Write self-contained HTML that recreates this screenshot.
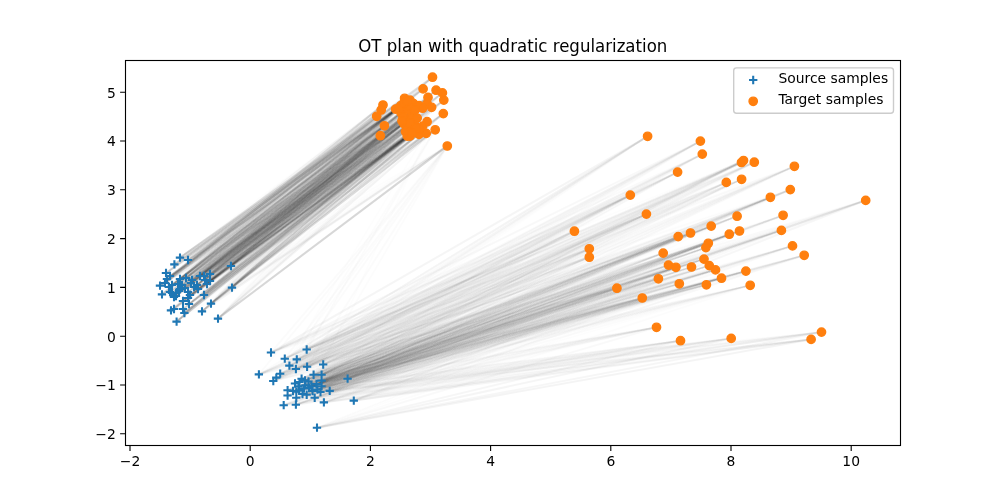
<!DOCTYPE html>
<html><head><meta charset="utf-8"><title>OT plan with quadratic regularization</title>
<style>html,body{margin:0;padding:0;background:#fff}svg{display:block}text{font-family:"DejaVu Sans","Liberation Sans",sans-serif;fill:#000}</style></head><body>
<svg width="1000" height="500" viewBox="0 0 1000 500">
<rect width="1000" height="500" fill="#fff"/>
<defs><clipPath id="c"><rect x="125" y="60" width="775" height="385"/></clipPath></defs>
<g clip-path="url(#c)" stroke="#000" stroke-width="2.08" stroke-linecap="square" fill="none">
<g stroke-opacity="0.00785">
<path d="M180.0 257.6L436.1 90.2"/>
<path d="M180.0 257.6L443.8 100.1"/>
<path d="M180.0 257.6L383.0 105.0"/>
<path d="M180.0 257.6L376.7 116.3"/>
<path d="M180.0 257.6L428.0 97.4"/>
<path d="M180.0 257.6L431.6 107.3"/>
<path d="M180.0 257.6L395.6 109.1"/>
<path d="M180.0 257.6L411.8 117.2"/>
<path d="M180.0 257.6L422.6 126.2"/>
<path d="M180.0 257.6L409.0 106.0"/>
<path d="M180.0 257.6L402.0 121.0"/>
<path d="M188.0 260.0L442.4 92.9"/>
<path d="M188.0 260.0L443.3 113.6"/>
<path d="M188.0 260.0L435.2 129.8"/>
<path d="M188.0 260.0L395.6 109.1"/>
<path d="M188.0 260.0L408.2 110.0"/>
<path d="M188.0 260.0L422.6 126.2"/>
<path d="M188.0 260.0L409.0 106.0"/>
<path d="M188.0 260.0L410.0 123.0"/>
<path d="M188.0 260.0L412.0 133.0"/>
<path d="M188.0 260.0L399.0 108.0"/>
<path d="M188.0 260.0L407.0 101.0"/>
<path d="M174.4 264.4L432.5 77.2"/>
<path d="M174.4 264.4L383.0 105.0"/>
<path d="M174.4 264.4L376.7 116.3"/>
<path d="M174.4 264.4L428.0 97.4"/>
<path d="M174.4 264.4L427.1 103.7"/>
<path d="M174.4 264.4L431.6 107.3"/>
<path d="M174.4 264.4L413.6 103.7"/>
<path d="M174.4 264.4L411.8 117.2"/>
<path d="M174.4 264.4L410.0 123.0"/>
<path d="M174.4 264.4L399.0 108.0"/>
<path d="M166.0 273.0L436.1 90.2"/>
<path d="M166.0 273.0L376.7 116.3"/>
<path d="M166.0 273.0L380.3 135.7"/>
<path d="M166.0 273.0L410.0 100.1"/>
<path d="M166.0 273.0L414.5 124.4"/>
<path d="M166.0 273.0L405.5 131.6"/>
<path d="M166.0 273.0L403.0 117.0"/>
<path d="M170.0 276.0L436.1 90.2"/>
<path d="M170.0 276.0L442.4 92.9"/>
<path d="M170.0 276.0L381.2 110.0"/>
<path d="M170.0 276.0L380.3 135.7"/>
<path d="M170.0 276.0L427.1 103.7"/>
<path d="M170.0 276.0L431.6 107.3"/>
<path d="M170.0 276.0L419.0 105.5"/>
<path d="M170.0 276.0L408.2 110.0"/>
<path d="M170.0 276.0L411.8 117.2"/>
<path d="M170.0 276.0L413.6 130.7"/>
<path d="M170.0 276.0L417.2 118.1"/>
<path d="M170.0 276.0L422.6 108.2"/>
<path d="M170.0 276.0L403.7 123.5"/>
<path d="M170.0 276.0L409.0 106.0"/>
<path d="M170.0 276.0L416.0 128.0"/>
<path d="M170.0 276.0L412.0 133.0"/>
<path d="M170.0 276.0L402.0 121.0"/>
<path d="M231.0 266.0L423.1 88.9"/>
<path d="M231.0 266.0L435.2 129.8"/>
<path d="M231.0 266.0L428.0 97.4"/>
<path d="M231.0 266.0L427.1 103.7"/>
<path d="M231.0 266.0L431.6 107.3"/>
<path d="M231.0 266.0L427.1 121.7"/>
<path d="M231.0 266.0L395.6 109.1"/>
<path d="M231.0 266.0L413.6 103.7"/>
<path d="M231.0 266.0L419.0 105.5"/>
<path d="M231.0 266.0L411.8 117.2"/>
<path d="M231.0 266.0L422.6 108.2"/>
<path d="M231.0 266.0L422.6 126.2"/>
<path d="M231.0 266.0L409.0 106.0"/>
<path d="M231.0 266.0L410.0 123.0"/>
<path d="M232.0 287.6L432.5 77.2"/>
<path d="M232.0 287.6L423.1 88.9"/>
<path d="M232.0 287.6L447.3 146.0"/>
<path d="M232.0 287.6L428.0 97.4"/>
<path d="M232.0 287.6L427.1 103.7"/>
<path d="M232.0 287.6L426.2 133.4"/>
<path d="M232.0 287.6L401.0 105.5"/>
<path d="M232.0 287.6L408.2 110.0"/>
<path d="M232.0 287.6L413.6 130.7"/>
<path d="M232.0 287.6L417.2 118.1"/>
<path d="M232.0 287.6L422.6 108.2"/>
<path d="M232.0 287.6L403.7 123.5"/>
<path d="M232.0 287.6L422.6 126.2"/>
<path d="M232.0 287.6L419.0 128.9"/>
<path d="M232.0 287.6L403.0 117.0"/>
<path d="M232.0 287.6L415.0 110.0"/>
<path d="M232.0 287.6L410.0 123.0"/>
<path d="M232.0 287.6L416.0 128.0"/>
<path d="M218.0 318.6L436.1 90.2"/>
<path d="M218.0 318.6L443.3 113.6"/>
<path d="M218.0 318.6L427.1 121.7"/>
<path d="M218.0 318.6L419.0 134.3"/>
<path d="M218.0 318.6L408.2 110.0"/>
<path d="M218.0 318.6L411.8 117.2"/>
<path d="M218.0 318.6L422.6 108.2"/>
<path d="M218.0 318.6L410.0 136.1"/>
<path d="M218.0 318.6L405.5 131.6"/>
<path d="M218.0 318.6L410.0 123.0"/>
<path d="M218.0 318.6L416.0 128.0"/>
<path d="M176.6 321.6L447.3 146.0"/>
<path d="M176.6 321.6L384.4 125.8"/>
<path d="M176.6 321.6L426.2 133.4"/>
<path d="M176.6 321.6L395.6 109.1"/>
<path d="M176.6 321.6L401.0 112.7"/>
<path d="M176.6 321.6L406.4 119.0"/>
<path d="M176.6 321.6L411.8 117.2"/>
<path d="M176.6 321.6L408.2 127.1"/>
<path d="M176.6 321.6L422.6 108.2"/>
<path d="M176.6 321.6L422.6 126.2"/>
<path d="M176.6 321.6L415.0 110.0"/>
<path d="M176.6 321.6L416.0 128.0"/>
<path d="M176.6 321.6L402.0 121.0"/>
<path d="M202.0 311.4L436.1 90.2"/>
<path d="M202.0 311.4L443.3 113.6"/>
<path d="M202.0 311.4L384.4 125.8"/>
<path d="M202.0 311.4L380.3 135.7"/>
<path d="M202.0 311.4L428.0 97.4"/>
<path d="M202.0 311.4L427.1 121.7"/>
<path d="M202.0 311.4L407.3 136.1"/>
<path d="M202.0 311.4L401.0 105.5"/>
<path d="M202.0 311.4L419.0 105.5"/>
<path d="M202.0 311.4L406.4 119.0"/>
<path d="M202.0 311.4L408.2 127.1"/>
<path d="M202.0 311.4L403.7 123.5"/>
<path d="M202.0 311.4L416.0 128.0"/>
<path d="M202.0 311.4L412.0 133.0"/>
<path d="M211.0 303.6L432.5 77.2"/>
<path d="M211.0 303.6L443.8 100.1"/>
<path d="M211.0 303.6L443.3 113.6"/>
<path d="M211.0 303.6L381.2 110.0"/>
<path d="M211.0 303.6L431.6 107.3"/>
<path d="M211.0 303.6L404.6 98.3"/>
<path d="M211.0 303.6L413.6 103.7"/>
<path d="M211.0 303.6L419.0 105.5"/>
<path d="M211.0 303.6L408.2 110.0"/>
<path d="M211.0 303.6L406.4 119.0"/>
<path d="M211.0 303.6L411.8 117.2"/>
<path d="M211.0 303.6L408.2 127.1"/>
<path d="M211.0 303.6L413.6 130.7"/>
<path d="M211.0 303.6L417.2 118.1"/>
<path d="M211.0 303.6L422.6 108.2"/>
<path d="M211.0 303.6L410.0 136.1"/>
<path d="M211.0 303.6L412.0 133.0"/>
<path d="M171.0 310.4L381.2 110.0"/>
<path d="M171.0 310.4L376.7 116.3"/>
<path d="M171.0 310.4L427.1 103.7"/>
<path d="M171.0 310.4L419.0 105.5"/>
<path d="M171.0 310.4L406.4 119.0"/>
<path d="M171.0 310.4L408.2 127.1"/>
<path d="M171.0 310.4L413.6 130.7"/>
<path d="M171.0 310.4L417.2 118.1"/>
<path d="M171.0 310.4L403.7 123.5"/>
<path d="M171.0 310.4L422.6 126.2"/>
<path d="M171.0 310.4L403.0 117.0"/>
<path d="M174.0 309.0L419.0 134.3"/>
<path d="M174.0 309.0L406.4 119.0"/>
<path d="M174.0 309.0L422.6 108.2"/>
<path d="M174.0 309.0L416.0 128.0"/>
<path d="M174.0 309.0L402.0 121.0"/>
<path d="M183.0 309.0L427.1 121.7"/>
<path d="M183.0 309.0L426.2 133.4"/>
<path d="M183.0 309.0L413.6 103.7"/>
<path d="M183.0 309.0L414.5 124.4"/>
<path d="M183.0 309.0L408.2 127.1"/>
<path d="M183.0 309.0L422.6 126.2"/>
<path d="M183.0 309.0L419.0 128.9"/>
<path d="M183.0 309.0L403.0 117.0"/>
<path d="M184.4 313.0L447.3 146.0"/>
<path d="M184.4 313.0L384.4 125.8"/>
<path d="M184.4 313.0L401.0 105.5"/>
<path d="M184.4 313.0L401.0 112.7"/>
<path d="M184.4 313.0L414.5 124.4"/>
<path d="M184.4 313.0L408.2 127.1"/>
<path d="M184.4 313.0L417.2 118.1"/>
<path d="M184.4 313.0L422.6 108.2"/>
<path d="M184.4 313.0L403.7 123.5"/>
<path d="M184.4 313.0L422.6 126.2"/>
<path d="M184.4 313.0L410.0 123.0"/>
<path d="M184.4 313.0L399.0 108.0"/>
<path d="M189.0 304.0L443.3 113.6"/>
<path d="M189.0 304.0L435.2 129.8"/>
<path d="M189.0 304.0L427.1 103.7"/>
<path d="M189.0 304.0L427.1 121.7"/>
<path d="M189.0 304.0L407.3 136.1"/>
<path d="M189.0 304.0L404.6 98.3"/>
<path d="M189.0 304.0L401.0 105.5"/>
<path d="M189.0 304.0L401.0 112.7"/>
<path d="M189.0 304.0L414.5 124.4"/>
<path d="M189.0 304.0L408.2 127.1"/>
<path d="M189.0 304.0L422.6 108.2"/>
<path d="M189.0 304.0L405.5 131.6"/>
<path d="M189.0 304.0L410.0 123.0"/>
<path d="M189.0 304.0L404.0 103.0"/>
<path d="M160.0 285.6L436.1 90.2"/>
<path d="M160.0 285.6L442.4 92.9"/>
<path d="M160.0 285.6L380.3 135.7"/>
<path d="M160.0 285.6L407.3 136.1"/>
<path d="M160.0 285.6L401.0 105.5"/>
<path d="M160.0 285.6L401.0 112.7"/>
<path d="M160.0 285.6L414.5 124.4"/>
<path d="M160.0 285.6L403.7 123.5"/>
<path d="M160.0 285.6L419.0 128.9"/>
<path d="M160.0 285.6L410.0 123.0"/>
<path d="M160.0 285.6L402.0 121.0"/>
<path d="M165.0 283.0L432.5 77.2"/>
<path d="M165.0 283.0L419.0 134.3"/>
<path d="M165.0 283.0L407.3 136.1"/>
<path d="M165.0 283.0L404.6 98.3"/>
<path d="M165.0 283.0L410.0 100.1"/>
<path d="M165.0 283.0L413.6 103.7"/>
<path d="M165.0 283.0L413.6 130.7"/>
<path d="M165.0 283.0L417.2 118.1"/>
<path d="M165.0 283.0L403.7 123.5"/>
<path d="M165.0 283.0L410.0 136.1"/>
<path d="M165.0 283.0L405.5 131.6"/>
<path d="M165.0 283.0L409.0 106.0"/>
<path d="M165.0 283.0L403.0 117.0"/>
<path d="M165.0 283.0L415.0 110.0"/>
<path d="M165.0 283.0L416.0 128.0"/>
<path d="M165.0 283.0L404.0 103.0"/>
<path d="M162.0 294.4L423.1 88.9"/>
<path d="M162.0 294.4L431.6 107.3"/>
<path d="M162.0 294.4L427.1 121.7"/>
<path d="M162.0 294.4L414.5 124.4"/>
<path d="M162.0 294.4L408.2 127.1"/>
<path d="M162.0 294.4L417.2 118.1"/>
<path d="M162.0 294.4L403.7 123.5"/>
<path d="M162.0 294.4L410.0 136.1"/>
<path d="M162.0 294.4L403.0 117.0"/>
<path d="M162.0 294.4L415.0 110.0"/>
<path d="M162.0 294.4L402.0 121.0"/>
<path d="M169.0 287.0L432.5 77.2"/>
<path d="M169.0 287.0L423.1 88.9"/>
<path d="M169.0 287.0L435.2 129.8"/>
<path d="M169.0 287.0L404.6 98.3"/>
<path d="M169.0 287.0L419.0 105.5"/>
<path d="M169.0 287.0L406.4 119.0"/>
<path d="M169.0 287.0L403.7 123.5"/>
<path d="M169.0 287.0L419.0 128.9"/>
<path d="M169.0 287.0L416.0 128.0"/>
<path d="M169.0 287.0L404.0 103.0"/>
<path d="M180.0 279.0L432.5 77.2"/>
<path d="M180.0 279.0L443.8 100.1"/>
<path d="M180.0 279.0L384.4 125.8"/>
<path d="M180.0 279.0L419.0 105.5"/>
<path d="M180.0 279.0L401.0 112.7"/>
<path d="M180.0 279.0L406.4 119.0"/>
<path d="M180.0 279.0L415.0 110.0"/>
<path d="M180.0 279.0L410.0 123.0"/>
<path d="M200.0 276.0L442.4 92.9"/>
<path d="M200.0 276.0L443.8 100.1"/>
<path d="M200.0 276.0L435.2 129.8"/>
<path d="M200.0 276.0L404.0 103.0"/>
<path d="M200.0 276.0L407.0 101.0"/>
<path d="M200.0 276.0L402.0 121.0"/>
<path d="M204.0 276.0L432.5 77.2"/>
<path d="M204.0 276.0L383.0 105.0"/>
<path d="M204.0 276.0L410.0 100.1"/>
<path d="M204.0 276.0L419.0 105.5"/>
<path d="M204.0 276.0L401.0 112.7"/>
<path d="M204.0 276.0L422.6 108.2"/>
<path d="M204.0 276.0L403.7 123.5"/>
<path d="M210.0 274.0L443.3 113.6"/>
<path d="M210.0 274.0L401.0 105.5"/>
<path d="M210.0 274.0L411.8 117.2"/>
<path d="M210.0 274.0L417.2 118.1"/>
<path d="M210.0 274.0L409.0 106.0"/>
<path d="M210.0 274.0L410.0 123.0"/>
<path d="M210.0 274.0L407.0 101.0"/>
<path d="M210.0 274.0L402.0 121.0"/>
<path d="M210.0 281.0L419.0 134.3"/>
<path d="M210.0 281.0L408.2 110.0"/>
<path d="M210.0 281.0L406.4 119.0"/>
<path d="M210.0 281.0L417.2 118.1"/>
<path d="M210.0 281.0L410.0 136.1"/>
<path d="M210.0 281.0L412.0 133.0"/>
<path d="M210.0 281.0L399.0 108.0"/>
<path d="M207.0 284.0L432.5 77.2"/>
<path d="M207.0 284.0L436.1 90.2"/>
<path d="M207.0 284.0L442.4 92.9"/>
<path d="M207.0 284.0L426.2 133.4"/>
<path d="M207.0 284.0L419.0 105.5"/>
<path d="M207.0 284.0L408.2 110.0"/>
<path d="M207.0 284.0L411.8 117.2"/>
<path d="M207.0 284.0L414.5 124.4"/>
<path d="M207.0 284.0L408.2 127.1"/>
<path d="M207.0 284.0L403.0 117.0"/>
<path d="M207.0 284.0L410.0 123.0"/>
<path d="M207.0 284.0L407.0 101.0"/>
<path d="M191.0 283.0L423.1 88.9"/>
<path d="M191.0 283.0L436.1 90.2"/>
<path d="M191.0 283.0L443.8 100.1"/>
<path d="M191.0 283.0L443.3 113.6"/>
<path d="M191.0 283.0L427.1 103.7"/>
<path d="M191.0 283.0L431.6 107.3"/>
<path d="M191.0 283.0L427.1 121.7"/>
<path d="M191.0 283.0L426.2 133.4"/>
<path d="M191.0 283.0L410.0 100.1"/>
<path d="M191.0 283.0L403.0 117.0"/>
<path d="M191.0 283.0L416.0 128.0"/>
<path d="M194.0 287.0L443.3 113.6"/>
<path d="M194.0 287.0L384.4 125.8"/>
<path d="M194.0 287.0L431.6 107.3"/>
<path d="M194.0 287.0L407.3 136.1"/>
<path d="M194.0 287.0L408.2 110.0"/>
<path d="M194.0 287.0L406.4 119.0"/>
<path d="M194.0 287.0L414.5 124.4"/>
<path d="M194.0 287.0L403.7 123.5"/>
<path d="M194.0 287.0L419.0 128.9"/>
<path d="M194.0 287.0L409.0 106.0"/>
<path d="M194.0 287.0L416.0 128.0"/>
<path d="M194.0 287.0L404.0 103.0"/>
<path d="M194.0 287.0L402.0 121.0"/>
<path d="M198.0 289.0L442.4 92.9"/>
<path d="M198.0 289.0L447.3 146.0"/>
<path d="M198.0 289.0L380.3 135.7"/>
<path d="M198.0 289.0L427.1 103.7"/>
<path d="M198.0 289.0L431.6 107.3"/>
<path d="M198.0 289.0L419.0 134.3"/>
<path d="M198.0 289.0L407.3 136.1"/>
<path d="M198.0 289.0L410.0 100.1"/>
<path d="M198.0 289.0L413.6 103.7"/>
<path d="M198.0 289.0L419.0 105.5"/>
<path d="M198.0 289.0L406.4 119.0"/>
<path d="M198.0 289.0L411.8 117.2"/>
<path d="M198.0 289.0L414.5 124.4"/>
<path d="M198.0 289.0L419.0 128.9"/>
<path d="M198.0 289.0L416.0 128.0"/>
<path d="M198.0 289.0L407.0 101.0"/>
<path d="M204.0 295.0L442.4 92.9"/>
<path d="M204.0 295.0L447.3 146.0"/>
<path d="M204.0 295.0L380.3 135.7"/>
<path d="M204.0 295.0L427.1 103.7"/>
<path d="M204.0 295.0L431.6 107.3"/>
<path d="M204.0 295.0L419.0 134.3"/>
<path d="M204.0 295.0L407.3 136.1"/>
<path d="M204.0 295.0L395.6 109.1"/>
<path d="M204.0 295.0L413.6 103.7"/>
<path d="M204.0 295.0L401.0 112.7"/>
<path d="M204.0 295.0L406.4 119.0"/>
<path d="M204.0 295.0L411.8 117.2"/>
<path d="M204.0 295.0L414.5 124.4"/>
<path d="M204.0 295.0L413.6 130.7"/>
<path d="M204.0 295.0L403.7 123.5"/>
<path d="M204.0 295.0L409.0 106.0"/>
<path d="M204.0 295.0L403.0 117.0"/>
<path d="M188.0 292.0L432.5 77.2"/>
<path d="M188.0 292.0L381.2 110.0"/>
<path d="M188.0 292.0L380.3 135.7"/>
<path d="M188.0 292.0L427.1 121.7"/>
<path d="M188.0 292.0L407.3 136.1"/>
<path d="M188.0 292.0L406.4 119.0"/>
<path d="M188.0 292.0L408.2 127.1"/>
<path d="M188.0 292.0L413.6 130.7"/>
<path d="M188.0 292.0L403.7 123.5"/>
<path d="M188.0 292.0L405.5 131.6"/>
<path d="M188.0 292.0L409.0 106.0"/>
<path d="M188.0 292.0L415.0 110.0"/>
<path d="M188.0 292.0L399.0 108.0"/>
<path d="M188.0 292.0L407.0 101.0"/>
<path d="M188.0 292.0L402.0 121.0"/>
<path d="M188.0 298.0L436.1 90.2"/>
<path d="M188.0 298.0L443.8 100.1"/>
<path d="M188.0 298.0L376.7 116.3"/>
<path d="M188.0 298.0L427.1 121.7"/>
<path d="M188.0 298.0L426.2 133.4"/>
<path d="M188.0 298.0L417.2 118.1"/>
<path d="M188.0 298.0L403.7 123.5"/>
<path d="M188.0 298.0L412.0 133.0"/>
<path d="M174.0 297.0L435.2 129.8"/>
<path d="M174.0 297.0L380.3 135.7"/>
<path d="M174.0 297.0L427.1 103.7"/>
<path d="M174.0 297.0L401.0 105.5"/>
<path d="M174.0 297.0L419.0 105.5"/>
<path d="M174.0 297.0L411.8 117.2"/>
<path d="M174.0 297.0L414.5 124.4"/>
<path d="M174.0 297.0L413.6 130.7"/>
<path d="M174.0 297.0L410.0 136.1"/>
<path d="M174.0 297.0L409.0 106.0"/>
<path d="M174.0 297.0L416.0 128.0"/>
<path d="M174.0 297.0L404.0 103.0"/>
<path d="M172.0 293.0L436.1 90.2"/>
<path d="M172.0 293.0L443.8 100.1"/>
<path d="M172.0 293.0L407.3 136.1"/>
<path d="M172.0 293.0L395.6 109.1"/>
<path d="M172.0 293.0L410.0 136.1"/>
<path d="M172.0 293.0L409.0 106.0"/>
<path d="M172.0 293.0L412.0 133.0"/>
<path d="M172.0 293.0L404.0 103.0"/>
<path d="M172.0 293.0L407.0 101.0"/>
<path d="M176.0 293.0L383.0 105.0"/>
<path d="M176.0 293.0L376.7 116.3"/>
<path d="M176.0 293.0L384.4 125.8"/>
<path d="M176.0 293.0L380.3 135.7"/>
<path d="M176.0 293.0L407.3 136.1"/>
<path d="M176.0 293.0L395.6 109.1"/>
<path d="M176.0 293.0L401.0 105.5"/>
<path d="M176.0 293.0L401.0 112.7"/>
<path d="M176.0 293.0L408.2 110.0"/>
<path d="M176.0 293.0L413.6 130.7"/>
<path d="M176.0 293.0L422.6 126.2"/>
<path d="M176.0 293.0L419.0 128.9"/>
<path d="M176.0 293.0L416.0 128.0"/>
<path d="M176.0 293.0L412.0 133.0"/>
<path d="M180.0 289.0L432.5 77.2"/>
<path d="M180.0 289.0L442.4 92.9"/>
<path d="M180.0 289.0L384.4 125.8"/>
<path d="M180.0 289.0L414.5 124.4"/>
<path d="M180.0 289.0L413.6 130.7"/>
<path d="M180.0 289.0L417.2 118.1"/>
<path d="M180.0 289.0L409.0 106.0"/>
<path d="M180.0 289.0L415.0 110.0"/>
<path d="M180.0 289.0L416.0 128.0"/>
<path d="M180.0 289.0L399.0 108.0"/>
<path d="M180.0 289.0L407.0 101.0"/>
<path d="M182.0 285.0L432.5 77.2"/>
<path d="M182.0 285.0L383.0 105.0"/>
<path d="M182.0 285.0L384.4 125.8"/>
<path d="M182.0 285.0L428.0 97.4"/>
<path d="M182.0 285.0L431.6 107.3"/>
<path d="M182.0 285.0L404.6 98.3"/>
<path d="M182.0 285.0L410.0 100.1"/>
<path d="M182.0 285.0L401.0 105.5"/>
<path d="M182.0 285.0L419.0 105.5"/>
<path d="M182.0 285.0L401.0 112.7"/>
<path d="M182.0 285.0L406.4 119.0"/>
<path d="M182.0 285.0L408.2 127.1"/>
<path d="M182.0 285.0L417.2 118.1"/>
<path d="M182.0 285.0L422.6 126.2"/>
<path d="M182.0 285.0L403.0 117.0"/>
<path d="M182.0 285.0L412.0 133.0"/>
<path d="M182.0 285.0L399.0 108.0"/>
<path d="M182.0 285.0L404.0 103.0"/>
<path d="M182.0 285.0L407.0 101.0"/>
<path d="M170.0 292.0L383.0 105.0"/>
<path d="M170.0 292.0L381.2 110.0"/>
<path d="M170.0 292.0L380.3 135.7"/>
<path d="M170.0 292.0L401.0 105.5"/>
<path d="M170.0 292.0L413.6 103.7"/>
<path d="M170.0 292.0L408.2 127.1"/>
<path d="M170.0 292.0L413.6 130.7"/>
<path d="M170.0 292.0L410.0 123.0"/>
<path d="M170.0 292.0L399.0 108.0"/>
<path d="M170.0 292.0L407.0 101.0"/>
<path d="M178.0 284.0L432.5 77.2"/>
<path d="M178.0 284.0L443.8 100.1"/>
<path d="M178.0 284.0L443.3 113.6"/>
<path d="M178.0 284.0L381.2 110.0"/>
<path d="M178.0 284.0L384.4 125.8"/>
<path d="M178.0 284.0L419.0 134.3"/>
<path d="M178.0 284.0L413.6 103.7"/>
<path d="M178.0 284.0L406.4 119.0"/>
<path d="M178.0 284.0L411.8 117.2"/>
<path d="M178.0 284.0L413.6 130.7"/>
<path d="M178.0 284.0L419.0 128.9"/>
<path d="M178.0 284.0L403.0 117.0"/>
<path d="M178.0 284.0L415.0 110.0"/>
<path d="M178.0 284.0L407.0 101.0"/>
<path d="M185.0 288.0L443.3 113.6"/>
<path d="M185.0 288.0L427.1 103.7"/>
<path d="M185.0 288.0L395.6 109.1"/>
<path d="M185.0 288.0L401.0 105.5"/>
<path d="M185.0 288.0L413.6 103.7"/>
<path d="M185.0 288.0L419.0 105.5"/>
<path d="M185.0 288.0L401.0 112.7"/>
<path d="M185.0 288.0L403.7 123.5"/>
<path d="M185.0 288.0L422.6 126.2"/>
<path d="M185.0 288.0L419.0 128.9"/>
<path d="M185.0 288.0L403.0 117.0"/>
<path d="M185.0 288.0L399.0 108.0"/>
<path d="M192.0 280.0L443.3 113.6"/>
<path d="M192.0 280.0L381.2 110.0"/>
<path d="M192.0 280.0L376.7 116.3"/>
<path d="M192.0 280.0L384.4 125.8"/>
<path d="M192.0 280.0L428.0 97.4"/>
<path d="M192.0 280.0L408.2 110.0"/>
<path d="M192.0 280.0L417.2 118.1"/>
<path d="M192.0 280.0L403.7 123.5"/>
<path d="M192.0 280.0L419.0 128.9"/>
<path d="M192.0 280.0L407.0 101.0"/>
<path d="M176.0 296.0L442.4 92.9"/>
<path d="M176.0 296.0L384.4 125.8"/>
<path d="M176.0 296.0L407.3 136.1"/>
<path d="M176.0 296.0L413.6 103.7"/>
<path d="M176.0 296.0L401.0 112.7"/>
<path d="M176.0 296.0L413.6 130.7"/>
<path d="M176.0 296.0L417.2 118.1"/>
<path d="M176.0 296.0L410.0 136.1"/>
<path d="M176.0 296.0L419.0 128.9"/>
<path d="M176.0 296.0L416.0 128.0"/>
<path d="M176.0 296.0L412.0 133.0"/>
<path d="M167.0 279.0L423.1 88.9"/>
<path d="M167.0 279.0L442.4 92.9"/>
<path d="M167.0 279.0L443.8 100.1"/>
<path d="M167.0 279.0L384.4 125.8"/>
<path d="M167.0 279.0L431.6 107.3"/>
<path d="M167.0 279.0L427.1 121.7"/>
<path d="M167.0 279.0L413.6 103.7"/>
<path d="M167.0 279.0L401.0 112.7"/>
<path d="M167.0 279.0L408.2 127.1"/>
<path d="M167.0 279.0L413.6 130.7"/>
<path d="M167.0 279.0L422.6 108.2"/>
<path d="M167.0 279.0L403.7 123.5"/>
<path d="M167.0 279.0L419.0 128.9"/>
<path d="M167.0 279.0L409.0 106.0"/>
<path d="M167.0 279.0L410.0 123.0"/>
<path d="M167.0 279.0L416.0 128.0"/>
<path d="M183.0 301.0L407.3 136.1"/>
<path d="M183.0 301.0L404.6 98.3"/>
<path d="M183.0 301.0L395.6 109.1"/>
<path d="M183.0 301.0L401.0 112.7"/>
<path d="M183.0 301.0L408.2 110.0"/>
<path d="M183.0 301.0L417.2 118.1"/>
<path d="M183.0 301.0L422.6 108.2"/>
<path d="M183.0 301.0L403.7 123.5"/>
<path d="M183.0 301.0L410.0 136.1"/>
<path d="M183.0 301.0L422.6 126.2"/>
<path d="M183.0 301.0L415.0 110.0"/>
<path d="M183.0 301.0L404.0 103.0"/>
<path d="M197.0 285.0L432.5 77.2"/>
<path d="M197.0 285.0L423.1 88.9"/>
<path d="M197.0 285.0L443.3 113.6"/>
<path d="M197.0 285.0L384.4 125.8"/>
<path d="M197.0 285.0L428.0 97.4"/>
<path d="M197.0 285.0L426.2 133.4"/>
<path d="M197.0 285.0L419.0 134.3"/>
<path d="M197.0 285.0L404.6 98.3"/>
<path d="M197.0 285.0L410.0 100.1"/>
<path d="M197.0 285.0L422.6 126.2"/>
<path d="M197.0 285.0L419.0 128.9"/>
<path d="M197.0 285.0L404.0 103.0"/>
<path d="M205.0 280.0L423.1 88.9"/>
<path d="M205.0 280.0L435.2 129.8"/>
<path d="M205.0 280.0L384.4 125.8"/>
<path d="M205.0 280.0L410.0 100.1"/>
<path d="M205.0 280.0L401.0 105.5"/>
<path d="M205.0 280.0L408.2 110.0"/>
<path d="M205.0 280.0L409.0 106.0"/>
<path d="M205.0 280.0L412.0 133.0"/>
<path d="M205.0 280.0L407.0 101.0"/>
<path d="M172.0 285.0L380.3 135.7"/>
<path d="M172.0 285.0L428.0 97.4"/>
<path d="M172.0 285.0L407.3 136.1"/>
<path d="M172.0 285.0L410.0 100.1"/>
<path d="M172.0 285.0L406.4 119.0"/>
<path d="M172.0 285.0L411.8 117.2"/>
<path d="M172.0 285.0L414.5 124.4"/>
<path d="M172.0 285.0L413.6 130.7"/>
<path d="M172.0 285.0L412.0 133.0"/>
<path d="M172.0 285.0L407.0 101.0"/>
<path d="M186.0 278.0L423.1 88.9"/>
<path d="M186.0 278.0L436.1 90.2"/>
<path d="M186.0 278.0L427.1 121.7"/>
<path d="M186.0 278.0L401.0 105.5"/>
<path d="M186.0 278.0L408.2 110.0"/>
<path d="M186.0 278.0L413.6 130.7"/>
<path d="M186.0 278.0L422.6 108.2"/>
<path d="M186.0 278.0L405.5 131.6"/>
<path d="M186.0 278.0L419.0 128.9"/>
<path d="M186.0 278.0L403.0 117.0"/>
<path d="M186.0 278.0L416.0 128.0"/>
<path d="M186.0 278.0L399.0 108.0"/>
<path d="M190.0 295.0L436.1 90.2"/>
<path d="M190.0 295.0L435.2 129.8"/>
<path d="M190.0 295.0L376.7 116.3"/>
<path d="M190.0 295.0L426.2 133.4"/>
<path d="M190.0 295.0L404.6 98.3"/>
<path d="M190.0 295.0L410.0 100.1"/>
<path d="M190.0 295.0L411.8 117.2"/>
<path d="M190.0 295.0L408.2 127.1"/>
<path d="M190.0 295.0L403.7 123.5"/>
<path d="M190.0 295.0L415.0 110.0"/>
<path d="M190.0 295.0L412.0 133.0"/>
<path d="M190.0 295.0L404.0 103.0"/>
<path d="M179.0 291.0L381.2 110.0"/>
<path d="M179.0 291.0L380.3 135.7"/>
<path d="M179.0 291.0L410.0 100.1"/>
<path d="M179.0 291.0L414.5 124.4"/>
<path d="M179.0 291.0L408.2 127.1"/>
<path d="M179.0 291.0L413.6 130.7"/>
<path d="M179.0 291.0L417.2 118.1"/>
<path d="M179.0 291.0L416.0 128.0"/>
<path d="M179.0 291.0L399.0 108.0"/>
<path d="M271.0 352.5L726.3 182.4"/>
<path d="M271.0 352.5L743.5 160.5"/>
<path d="M271.0 352.5L589.3 257.2"/>
<path d="M306.7 349.5L790.3 189.6"/>
<path d="M306.7 349.5L770.4 197.3"/>
<path d="M284.8 358.7L741.6 179.3"/>
<path d="M284.8 358.7L574.4 231.2"/>
<path d="M284.8 358.7L589.3 248.8"/>
<path d="M296.8 359.4L794.4 166.3"/>
<path d="M296.8 359.4L737.1 216.2"/>
<path d="M296.8 359.4L690.5 233.0"/>
<path d="M289.4 365.6L741.6 179.3"/>
<path d="M289.4 365.6L574.4 231.2"/>
<path d="M289.4 365.6L711.2 226.1"/>
<path d="M289.4 365.6L737.1 216.2"/>
<path d="M289.4 365.6L690.5 233.0"/>
<path d="M289.4 365.6L589.3 248.8"/>
<path d="M289.4 365.6L663.2 253.1"/>
<path d="M295.9 369.0L790.3 189.6"/>
<path d="M295.9 369.0L770.4 197.3"/>
<path d="M295.9 369.0L711.2 226.1"/>
<path d="M295.9 369.0L737.1 216.2"/>
<path d="M295.9 369.0L690.5 233.0"/>
<path d="M295.9 369.0L678.2 236.6"/>
<path d="M295.9 369.0L708.3 243.3"/>
<path d="M307.1 366.8L647.6 136.3"/>
<path d="M307.1 366.8L646.4 214.1"/>
<path d="M307.1 366.8L737.1 216.2"/>
<path d="M307.1 366.8L783.1 215.3"/>
<path d="M307.1 366.8L729.3 234.2"/>
<path d="M307.1 366.8L781.4 230.4"/>
<path d="M307.1 366.8L708.3 243.3"/>
<path d="M323.2 364.5L700.4 141.1"/>
<path d="M323.2 364.5L737.1 216.2"/>
<path d="M323.2 364.5L783.1 215.3"/>
<path d="M323.2 364.5L781.4 230.4"/>
<path d="M258.9 374.4L677.6 172.1"/>
<path d="M258.9 374.4L678.2 236.6"/>
<path d="M258.9 374.4L642.3 298.0"/>
<path d="M258.9 374.4L658.4 278.8"/>
<path d="M258.9 374.4L663.2 253.1"/>
<path d="M258.9 374.4L668.5 265.1"/>
<path d="M280.2 373.7L702.3 154.1"/>
<path d="M280.2 373.7L711.2 226.1"/>
<path d="M280.2 373.7L678.2 236.6"/>
<path d="M280.2 373.7L616.9 288.2"/>
<path d="M280.2 373.7L642.3 298.0"/>
<path d="M280.2 373.7L658.4 278.8"/>
<path d="M280.2 373.7L668.5 265.1"/>
<path d="M280.2 373.7L675.9 267.3"/>
<path d="M280.2 373.7L708.3 243.3"/>
<path d="M280.2 373.7L705.9 247.6"/>
<path d="M276.3 377.6L647.6 136.3"/>
<path d="M276.3 377.6L700.4 141.1"/>
<path d="M276.3 377.6L678.2 236.6"/>
<path d="M276.3 377.6L642.3 298.0"/>
<path d="M276.3 377.6L658.4 278.8"/>
<path d="M276.3 377.6L663.2 253.1"/>
<path d="M276.3 377.6L668.5 265.1"/>
<path d="M273.3 381.0L677.6 172.1"/>
<path d="M273.3 381.0L690.5 233.0"/>
<path d="M273.3 381.0L678.2 236.6"/>
<path d="M273.3 381.0L658.4 278.8"/>
<path d="M273.3 381.0L668.5 265.1"/>
<path d="M273.3 381.0L675.9 267.3"/>
<path d="M273.3 381.0L679.3 283.8"/>
<path d="M313.6 374.8L677.6 172.1"/>
<path d="M313.6 374.8L865.7 200.4"/>
<path d="M313.6 374.8L711.2 226.1"/>
<path d="M313.6 374.8L737.1 216.2"/>
<path d="M313.6 374.8L783.1 215.3"/>
<path d="M313.6 374.8L690.5 233.0"/>
<path d="M313.6 374.8L729.3 234.2"/>
<path d="M313.6 374.8L739.5 231.0"/>
<path d="M313.6 374.8L781.4 230.4"/>
<path d="M313.6 374.8L705.9 247.6"/>
<path d="M313.6 374.8L704.0 259.1"/>
<path d="M313.6 374.8L792.5 245.9"/>
<path d="M321.6 374.8L702.3 154.1"/>
<path d="M321.6 374.8L726.3 182.4"/>
<path d="M321.6 374.8L711.2 226.1"/>
<path d="M321.6 374.8L737.1 216.2"/>
<path d="M321.6 374.8L729.3 234.2"/>
<path d="M321.6 374.8L739.5 231.0"/>
<path d="M321.6 374.8L792.5 245.9"/>
<path d="M321.6 374.8L804.2 255.3"/>
<path d="M301.6 378.7L700.4 141.1"/>
<path d="M301.6 378.7L702.3 154.1"/>
<path d="M301.6 378.7L677.6 172.1"/>
<path d="M301.6 378.7L726.3 182.4"/>
<path d="M301.6 378.7L741.5 162.5"/>
<path d="M301.6 378.7L743.5 160.5"/>
<path d="M301.6 378.7L754.3 162.2"/>
<path d="M301.6 378.7L794.4 166.3"/>
<path d="M301.6 378.7L741.6 179.3"/>
<path d="M301.6 378.7L770.4 197.3"/>
<path d="M301.6 378.7L646.4 214.1"/>
<path d="M301.6 378.7L711.2 226.1"/>
<path d="M301.6 378.7L729.3 234.2"/>
<path d="M301.6 378.7L739.5 231.0"/>
<path d="M301.6 378.7L663.2 253.1"/>
<path d="M301.6 378.7L668.5 265.1"/>
<path d="M301.6 378.7L679.3 283.8"/>
<path d="M301.6 378.7L708.3 243.3"/>
<path d="M301.6 378.7L705.9 247.6"/>
<path d="M301.6 378.7L704.0 259.1"/>
<path d="M301.6 378.7L715.5 269.9"/>
<path d="M321.6 380.6L726.3 182.4"/>
<path d="M321.6 380.6L741.5 162.5"/>
<path d="M321.6 380.6L743.5 160.5"/>
<path d="M321.6 380.6L741.6 179.3"/>
<path d="M321.6 380.6L729.3 234.2"/>
<path d="M321.6 380.6L739.5 231.0"/>
<path d="M321.6 380.6L708.3 243.3"/>
<path d="M321.6 380.6L704.0 259.1"/>
<path d="M321.6 380.6L709.3 265.6"/>
<path d="M321.6 380.6L745.9 271.1"/>
<path d="M321.6 380.6L750.2 285.3"/>
<path d="M347.6 378.7L754.3 162.2"/>
<path d="M347.6 378.7L821.5 332.1"/>
<path d="M298.6 386.3L677.6 172.1"/>
<path d="M298.6 386.3L646.4 214.1"/>
<path d="M298.6 386.3L737.1 216.2"/>
<path d="M298.6 386.3L729.3 234.2"/>
<path d="M298.6 386.3L739.5 231.0"/>
<path d="M298.6 386.3L589.3 248.8"/>
<path d="M298.6 386.3L589.3 257.2"/>
<path d="M298.6 386.3L616.9 288.2"/>
<path d="M298.6 386.3L642.3 298.0"/>
<path d="M298.6 386.3L679.3 283.8"/>
<path d="M298.6 386.3L708.3 243.3"/>
<path d="M298.6 386.3L705.9 247.6"/>
<path d="M298.6 386.3L704.0 259.1"/>
<path d="M298.6 386.3L709.3 265.6"/>
<path d="M298.6 386.3L715.5 269.9"/>
<path d="M298.6 386.3L721.5 278.2"/>
<path d="M298.6 386.3L706.4 284.8"/>
<path d="M298.6 386.3L656.5 327.3"/>
<path d="M298.6 386.3L745.9 271.1"/>
<path d="M298.6 386.3L750.2 285.3"/>
<path d="M305.5 385.2L741.6 179.3"/>
<path d="M305.5 385.2L790.3 189.6"/>
<path d="M305.5 385.2L770.4 197.3"/>
<path d="M305.5 385.2L711.2 226.1"/>
<path d="M305.5 385.2L737.1 216.2"/>
<path d="M305.5 385.2L783.1 215.3"/>
<path d="M305.5 385.2L690.5 233.0"/>
<path d="M305.5 385.2L678.2 236.6"/>
<path d="M305.5 385.2L729.3 234.2"/>
<path d="M305.5 385.2L781.4 230.4"/>
<path d="M305.5 385.2L658.4 278.8"/>
<path d="M305.5 385.2L663.2 253.1"/>
<path d="M305.5 385.2L668.5 265.1"/>
<path d="M305.5 385.2L675.9 267.3"/>
<path d="M305.5 385.2L691.5 267.0"/>
<path d="M305.5 385.2L708.3 243.3"/>
<path d="M305.5 385.2L705.9 247.6"/>
<path d="M305.5 385.2L709.3 265.6"/>
<path d="M305.5 385.2L715.5 269.9"/>
<path d="M305.5 385.2L721.5 278.2"/>
<path d="M305.5 385.2L706.4 284.8"/>
<path d="M305.5 385.2L745.9 271.1"/>
<path d="M311.3 386.3L726.3 182.4"/>
<path d="M311.3 386.3L743.5 160.5"/>
<path d="M311.3 386.3L794.4 166.3"/>
<path d="M311.3 386.3L741.6 179.3"/>
<path d="M311.3 386.3L790.3 189.6"/>
<path d="M311.3 386.3L770.4 197.3"/>
<path d="M311.3 386.3L711.2 226.1"/>
<path d="M311.3 386.3L783.1 215.3"/>
<path d="M311.3 386.3L690.5 233.0"/>
<path d="M311.3 386.3L678.2 236.6"/>
<path d="M311.3 386.3L729.3 234.2"/>
<path d="M311.3 386.3L781.4 230.4"/>
<path d="M311.3 386.3L679.3 283.8"/>
<path d="M311.3 386.3L691.5 267.0"/>
<path d="M311.3 386.3L708.3 243.3"/>
<path d="M311.3 386.3L705.9 247.6"/>
<path d="M311.3 386.3L704.0 259.1"/>
<path d="M311.3 386.3L709.3 265.6"/>
<path d="M311.3 386.3L715.5 269.9"/>
<path d="M311.3 386.3L721.5 278.2"/>
<path d="M311.3 386.3L706.4 284.8"/>
<path d="M311.3 386.3L731.2 338.4"/>
<path d="M311.3 386.3L792.5 245.9"/>
<path d="M311.3 386.3L804.2 255.3"/>
<path d="M311.3 386.3L745.9 271.1"/>
<path d="M311.3 386.3L750.2 285.3"/>
<path d="M321.6 386.3L794.4 166.3"/>
<path d="M321.6 386.3L711.2 226.1"/>
<path d="M321.6 386.3L737.1 216.2"/>
<path d="M321.6 386.3L729.3 234.2"/>
<path d="M321.6 386.3L691.5 267.0"/>
<path d="M321.6 386.3L708.3 243.3"/>
<path d="M321.6 386.3L705.9 247.6"/>
<path d="M321.6 386.3L704.0 259.1"/>
<path d="M321.6 386.3L715.5 269.9"/>
<path d="M321.6 386.3L721.5 278.2"/>
<path d="M321.6 386.3L745.9 271.1"/>
<path d="M321.6 386.3L750.2 285.3"/>
<path d="M321.6 386.3L821.5 332.1"/>
<path d="M287.6 390.2L630.3 195.1"/>
<path d="M287.6 390.2L646.4 214.1"/>
<path d="M287.6 390.2L690.5 233.0"/>
<path d="M287.6 390.2L678.2 236.6"/>
<path d="M287.6 390.2L663.2 253.1"/>
<path d="M287.6 390.2L668.5 265.1"/>
<path d="M287.6 390.2L708.3 243.3"/>
<path d="M287.6 390.2L705.9 247.6"/>
<path d="M287.6 390.2L704.0 259.1"/>
<path d="M287.6 390.2L721.5 278.2"/>
<path d="M287.6 390.2L656.5 327.3"/>
<path d="M287.6 390.2L680.5 340.7"/>
<path d="M296.3 391.6L711.2 226.1"/>
<path d="M296.3 391.6L678.2 236.6"/>
<path d="M296.3 391.6L589.3 248.8"/>
<path d="M296.3 391.6L616.9 288.2"/>
<path d="M296.3 391.6L679.3 283.8"/>
<path d="M296.3 391.6L691.5 267.0"/>
<path d="M296.3 391.6L705.9 247.6"/>
<path d="M296.3 391.6L709.3 265.6"/>
<path d="M296.3 391.6L721.5 278.2"/>
<path d="M296.3 391.6L745.9 271.1"/>
<path d="M329.7 390.9L770.4 197.3"/>
<path d="M329.7 390.9L737.1 216.2"/>
<path d="M329.7 390.9L739.5 231.0"/>
<path d="M329.7 390.9L715.5 269.9"/>
<path d="M329.7 390.9L721.5 278.2"/>
<path d="M329.7 390.9L706.4 284.8"/>
<path d="M320.5 392.0L790.3 189.6"/>
<path d="M320.5 392.0L770.4 197.3"/>
<path d="M320.5 392.0L865.7 200.4"/>
<path d="M320.5 392.0L783.1 215.3"/>
<path d="M320.5 392.0L690.5 233.0"/>
<path d="M320.5 392.0L729.3 234.2"/>
<path d="M320.5 392.0L739.5 231.0"/>
<path d="M320.5 392.0L781.4 230.4"/>
<path d="M320.5 392.0L675.9 267.3"/>
<path d="M320.5 392.0L704.0 259.1"/>
<path d="M320.5 392.0L709.3 265.6"/>
<path d="M320.5 392.0L715.5 269.9"/>
<path d="M320.5 392.0L721.5 278.2"/>
<path d="M320.5 392.0L731.2 338.4"/>
<path d="M287.6 395.5L646.4 214.1"/>
<path d="M287.6 395.5L574.4 231.2"/>
<path d="M287.6 395.5L690.5 233.0"/>
<path d="M287.6 395.5L663.2 253.1"/>
<path d="M287.6 395.5L668.5 265.1"/>
<path d="M287.6 395.5L675.9 267.3"/>
<path d="M287.6 395.5L691.5 267.0"/>
<path d="M287.6 395.5L705.9 247.6"/>
<path d="M287.6 395.5L715.5 269.9"/>
<path d="M287.6 395.5L721.5 278.2"/>
<path d="M287.6 395.5L706.4 284.8"/>
<path d="M306.7 394.8L739.5 231.0"/>
<path d="M306.7 394.8L616.9 288.2"/>
<path d="M306.7 394.8L658.4 278.8"/>
<path d="M306.7 394.8L663.2 253.1"/>
<path d="M306.7 394.8L668.5 265.1"/>
<path d="M306.7 394.8L675.9 267.3"/>
<path d="M306.7 394.8L679.3 283.8"/>
<path d="M306.7 394.8L691.5 267.0"/>
<path d="M306.7 394.8L708.3 243.3"/>
<path d="M306.7 394.8L705.9 247.6"/>
<path d="M306.7 394.8L704.0 259.1"/>
<path d="M306.7 394.8L715.5 269.9"/>
<path d="M306.7 394.8L656.5 327.3"/>
<path d="M306.7 394.8L811.1 339.4"/>
<path d="M296.3 397.8L678.2 236.6"/>
<path d="M296.3 397.8L589.3 257.2"/>
<path d="M296.3 397.8L663.2 253.1"/>
<path d="M296.3 397.8L668.5 265.1"/>
<path d="M296.3 397.8L691.5 267.0"/>
<path d="M296.3 397.8L708.3 243.3"/>
<path d="M296.3 397.8L705.9 247.6"/>
<path d="M296.3 397.8L704.0 259.1"/>
<path d="M296.3 397.8L709.3 265.6"/>
<path d="M296.3 397.8L721.5 278.2"/>
<path d="M296.3 397.8L750.2 285.3"/>
<path d="M314.7 397.8L729.3 234.2"/>
<path d="M314.7 397.8L739.5 231.0"/>
<path d="M314.7 397.8L781.4 230.4"/>
<path d="M314.7 397.8L675.9 267.3"/>
<path d="M314.7 397.8L679.3 283.8"/>
<path d="M314.7 397.8L708.3 243.3"/>
<path d="M314.7 397.8L705.9 247.6"/>
<path d="M314.7 397.8L704.0 259.1"/>
<path d="M314.7 397.8L656.5 327.3"/>
<path d="M314.7 397.8L792.5 245.9"/>
<path d="M353.8 400.6L790.3 189.6"/>
<path d="M353.8 400.6L783.1 215.3"/>
<path d="M353.8 400.6L731.2 338.4"/>
<path d="M353.8 400.6L750.2 285.3"/>
<path d="M323.9 402.4L865.7 200.4"/>
<path d="M323.9 402.4L781.4 230.4"/>
<path d="M323.9 402.4L679.3 283.8"/>
<path d="M323.9 402.4L704.0 259.1"/>
<path d="M323.9 402.4L709.3 265.6"/>
<path d="M323.9 402.4L715.5 269.9"/>
<path d="M323.9 402.4L706.4 284.8"/>
<path d="M323.9 402.4L656.5 327.3"/>
<path d="M283.7 405.2L663.2 253.1"/>
<path d="M283.7 405.2L668.5 265.1"/>
<path d="M283.7 405.2L675.9 267.3"/>
<path d="M283.7 405.2L691.5 267.0"/>
<path d="M283.7 405.2L706.4 284.8"/>
<path d="M295.9 404.7L663.2 253.1"/>
<path d="M295.9 404.7L675.9 267.3"/>
<path d="M295.9 404.7L691.5 267.0"/>
<path d="M295.9 404.7L708.3 243.3"/>
<path d="M295.9 404.7L704.0 259.1"/>
<path d="M295.9 404.7L709.3 265.6"/>
<path d="M295.9 404.7L715.5 269.9"/>
<path d="M295.9 404.7L721.5 278.2"/>
<path d="M295.9 404.7L745.9 271.1"/>
<path d="M295.9 404.7L750.2 285.3"/>
<path d="M317.0 427.7L642.3 298.0"/>
<path d="M317.0 427.7L679.3 283.8"/>
<path d="M317.0 427.7L706.4 284.8"/>
<path d="M299.5 382.0L700.4 141.1"/>
<path d="M299.5 382.0L677.6 172.1"/>
<path d="M299.5 382.0L726.3 182.4"/>
<path d="M299.5 382.0L743.5 160.5"/>
<path d="M299.5 382.0L770.4 197.3"/>
<path d="M299.5 382.0L630.3 195.1"/>
<path d="M299.5 382.0L646.4 214.1"/>
<path d="M299.5 382.0L737.1 216.2"/>
<path d="M299.5 382.0L729.3 234.2"/>
<path d="M299.5 382.0L739.5 231.0"/>
<path d="M299.5 382.0L589.3 248.8"/>
<path d="M299.5 382.0L589.3 257.2"/>
<path d="M299.5 382.0L616.9 288.2"/>
<path d="M299.5 382.0L642.3 298.0"/>
<path d="M299.5 382.0L658.4 278.8"/>
<path d="M299.5 382.0L663.2 253.1"/>
<path d="M299.5 382.0L668.5 265.1"/>
<path d="M299.5 382.0L675.9 267.3"/>
<path d="M299.5 382.0L691.5 267.0"/>
<path d="M299.5 382.0L708.3 243.3"/>
<path d="M299.5 382.0L705.9 247.6"/>
<path d="M299.5 382.0L704.0 259.1"/>
<path d="M299.5 382.0L709.3 265.6"/>
<path d="M299.5 382.0L721.5 278.2"/>
<path d="M299.5 382.0L706.4 284.8"/>
<path d="M304.0 388.5L711.2 226.1"/>
<path d="M304.0 388.5L737.1 216.2"/>
<path d="M304.0 388.5L690.5 233.0"/>
<path d="M304.0 388.5L678.2 236.6"/>
<path d="M304.0 388.5L739.5 231.0"/>
<path d="M304.0 388.5L781.4 230.4"/>
<path d="M304.0 388.5L642.3 298.0"/>
<path d="M304.0 388.5L658.4 278.8"/>
<path d="M304.0 388.5L663.2 253.1"/>
<path d="M304.0 388.5L668.5 265.1"/>
<path d="M304.0 388.5L675.9 267.3"/>
<path d="M304.0 388.5L679.3 283.8"/>
<path d="M304.0 388.5L691.5 267.0"/>
<path d="M304.0 388.5L708.3 243.3"/>
<path d="M304.0 388.5L704.0 259.1"/>
<path d="M304.0 388.5L721.5 278.2"/>
<path d="M304.0 388.5L706.4 284.8"/>
<path d="M304.0 388.5L656.5 327.3"/>
<path d="M304.0 388.5L680.5 340.7"/>
<path d="M304.0 388.5L731.2 338.4"/>
<path d="M304.0 388.5L745.9 271.1"/>
<path d="M304.0 388.5L750.2 285.3"/>
<path d="M308.5 381.5L726.3 182.4"/>
<path d="M308.5 381.5L741.5 162.5"/>
<path d="M308.5 381.5L743.5 160.5"/>
<path d="M308.5 381.5L754.3 162.2"/>
<path d="M308.5 381.5L741.6 179.3"/>
<path d="M308.5 381.5L790.3 189.6"/>
<path d="M308.5 381.5L770.4 197.3"/>
<path d="M308.5 381.5L646.4 214.1"/>
<path d="M308.5 381.5L711.2 226.1"/>
<path d="M308.5 381.5L737.1 216.2"/>
<path d="M308.5 381.5L783.1 215.3"/>
<path d="M308.5 381.5L690.5 233.0"/>
<path d="M308.5 381.5L739.5 231.0"/>
<path d="M308.5 381.5L781.4 230.4"/>
<path d="M308.5 381.5L668.5 265.1"/>
<path d="M308.5 381.5L675.9 267.3"/>
<path d="M308.5 381.5L691.5 267.0"/>
<path d="M308.5 381.5L708.3 243.3"/>
<path d="M308.5 381.5L705.9 247.6"/>
<path d="M308.5 381.5L704.0 259.1"/>
<path d="M308.5 381.5L715.5 269.9"/>
<path d="M308.5 381.5L721.5 278.2"/>
<path d="M308.5 381.5L792.5 245.9"/>
<path d="M308.5 381.5L745.9 271.1"/>
<path d="M308.5 381.5L750.2 285.3"/>
<path d="M299.0 390.5L646.4 214.1"/>
<path d="M299.0 390.5L711.2 226.1"/>
<path d="M299.0 390.5L690.5 233.0"/>
<path d="M299.0 390.5L678.2 236.6"/>
<path d="M299.0 390.5L729.3 234.2"/>
<path d="M299.0 390.5L616.9 288.2"/>
<path d="M299.0 390.5L658.4 278.8"/>
<path d="M299.0 390.5L663.2 253.1"/>
<path d="M299.0 390.5L668.5 265.1"/>
<path d="M299.0 390.5L679.3 283.8"/>
<path d="M299.0 390.5L691.5 267.0"/>
<path d="M299.0 390.5L708.3 243.3"/>
<path d="M299.0 390.5L705.9 247.6"/>
<path d="M299.0 390.5L704.0 259.1"/>
<path d="M299.0 390.5L709.3 265.6"/>
<path d="M299.0 390.5L715.5 269.9"/>
<path d="M299.0 390.5L721.5 278.2"/>
<path d="M299.0 390.5L706.4 284.8"/>
<path d="M299.0 390.5L656.5 327.3"/>
<path d="M299.0 390.5L680.5 340.7"/>
<path d="M299.0 390.5L731.2 338.4"/>
<path d="M299.0 390.5L745.9 271.1"/>
<path d="M312.5 391.0L711.2 226.1"/>
<path d="M312.5 391.0L737.1 216.2"/>
<path d="M312.5 391.0L783.1 215.3"/>
<path d="M312.5 391.0L729.3 234.2"/>
<path d="M312.5 391.0L739.5 231.0"/>
<path d="M312.5 391.0L781.4 230.4"/>
<path d="M312.5 391.0L658.4 278.8"/>
<path d="M312.5 391.0L663.2 253.1"/>
<path d="M312.5 391.0L668.5 265.1"/>
<path d="M312.5 391.0L675.9 267.3"/>
<path d="M312.5 391.0L679.3 283.8"/>
<path d="M312.5 391.0L691.5 267.0"/>
<path d="M312.5 391.0L708.3 243.3"/>
<path d="M312.5 391.0L705.9 247.6"/>
<path d="M312.5 391.0L704.0 259.1"/>
<path d="M312.5 391.0L709.3 265.6"/>
<path d="M312.5 391.0L706.4 284.8"/>
<path d="M312.5 391.0L731.2 338.4"/>
<path d="M312.5 391.0L792.5 245.9"/>
<path d="M312.5 391.0L804.2 255.3"/>
<path d="M312.5 391.0L750.2 285.3"/>
<path d="M312.5 391.0L821.5 332.1"/>
<path d="M312.5 391.0L811.1 339.4"/>
<path d="M316.5 384.0L741.5 162.5"/>
<path d="M316.5 384.0L743.5 160.5"/>
<path d="M316.5 384.0L741.6 179.3"/>
<path d="M316.5 384.0L790.3 189.6"/>
<path d="M316.5 384.0L865.7 200.4"/>
<path d="M316.5 384.0L711.2 226.1"/>
<path d="M316.5 384.0L737.1 216.2"/>
<path d="M316.5 384.0L690.5 233.0"/>
<path d="M316.5 384.0L678.2 236.6"/>
<path d="M316.5 384.0L729.3 234.2"/>
<path d="M316.5 384.0L739.5 231.0"/>
<path d="M316.5 384.0L708.3 243.3"/>
<path d="M316.5 384.0L705.9 247.6"/>
<path d="M316.5 384.0L704.0 259.1"/>
<path d="M316.5 384.0L709.3 265.6"/>
<path d="M316.5 384.0L715.5 269.9"/>
<path d="M316.5 384.0L721.5 278.2"/>
<path d="M316.5 384.0L706.4 284.8"/>
<path d="M316.5 384.0L804.2 255.3"/>
<path d="M316.5 384.0L745.9 271.1"/>
<path d="M316.5 384.0L750.2 285.3"/>
<path d="M317.5 389.5L794.4 166.3"/>
<path d="M317.5 389.5L741.6 179.3"/>
<path d="M317.5 389.5L770.4 197.3"/>
<path d="M317.5 389.5L865.7 200.4"/>
<path d="M317.5 389.5L737.1 216.2"/>
<path d="M317.5 389.5L783.1 215.3"/>
<path d="M317.5 389.5L690.5 233.0"/>
<path d="M317.5 389.5L729.3 234.2"/>
<path d="M317.5 389.5L739.5 231.0"/>
<path d="M317.5 389.5L708.3 243.3"/>
<path d="M317.5 389.5L705.9 247.6"/>
<path d="M317.5 389.5L704.0 259.1"/>
<path d="M317.5 389.5L709.3 265.6"/>
<path d="M317.5 389.5L715.5 269.9"/>
<path d="M317.5 389.5L706.4 284.8"/>
<path d="M317.5 389.5L745.9 271.1"/>
<path d="M317.5 389.5L750.2 285.3"/>
<path d="M317.5 389.5L821.5 332.1"/>
<path d="M317.5 389.5L811.1 339.4"/>
<path d="M302.5 394.0L711.2 226.1"/>
<path d="M302.5 394.0L678.2 236.6"/>
<path d="M302.5 394.0L739.5 231.0"/>
<path d="M302.5 394.0L658.4 278.8"/>
<path d="M302.5 394.0L663.2 253.1"/>
<path d="M302.5 394.0L668.5 265.1"/>
<path d="M302.5 394.0L675.9 267.3"/>
<path d="M302.5 394.0L679.3 283.8"/>
<path d="M302.5 394.0L691.5 267.0"/>
<path d="M302.5 394.0L708.3 243.3"/>
<path d="M302.5 394.0L705.9 247.6"/>
<path d="M302.5 394.0L704.0 259.1"/>
<path d="M302.5 394.0L709.3 265.6"/>
<path d="M302.5 394.0L721.5 278.2"/>
<path d="M302.5 394.0L656.5 327.3"/>
<path d="M302.5 394.0L745.9 271.1"/>
<path d="M302.5 394.0L750.2 285.3"/>
<path d="M309.0 388.0L741.6 179.3"/>
<path d="M309.0 388.0L770.4 197.3"/>
<path d="M309.0 388.0L711.2 226.1"/>
<path d="M309.0 388.0L737.1 216.2"/>
<path d="M309.0 388.0L690.5 233.0"/>
<path d="M309.0 388.0L739.5 231.0"/>
<path d="M309.0 388.0L781.4 230.4"/>
<path d="M309.0 388.0L663.2 253.1"/>
<path d="M309.0 388.0L675.9 267.3"/>
<path d="M309.0 388.0L679.3 283.8"/>
<path d="M309.0 388.0L691.5 267.0"/>
<path d="M309.0 388.0L705.9 247.6"/>
<path d="M309.0 388.0L704.0 259.1"/>
<path d="M309.0 388.0L715.5 269.9"/>
<path d="M309.0 388.0L706.4 284.8"/>
<path d="M309.0 388.0L656.5 327.3"/>
<path d="M309.0 388.0L792.5 245.9"/>
<path d="M309.0 388.0L804.2 255.3"/>
<path d="M309.0 388.0L745.9 271.1"/>
<path d="M309.0 388.0L750.2 285.3"/>
<path d="M295.0 383.5L677.6 172.1"/>
<path d="M295.0 383.5L630.3 195.1"/>
<path d="M295.0 383.5L646.4 214.1"/>
<path d="M295.0 383.5L574.4 231.2"/>
<path d="M295.0 383.5L711.2 226.1"/>
<path d="M295.0 383.5L737.1 216.2"/>
<path d="M295.0 383.5L690.5 233.0"/>
<path d="M295.0 383.5L729.3 234.2"/>
<path d="M295.0 383.5L589.3 248.8"/>
<path d="M295.0 383.5L589.3 257.2"/>
<path d="M295.0 383.5L642.3 298.0"/>
<path d="M295.0 383.5L668.5 265.1"/>
<path d="M295.0 383.5L679.3 283.8"/>
<path d="M295.0 383.5L691.5 267.0"/>
<path d="M295.0 383.5L708.3 243.3"/>
<path d="M295.0 383.5L705.9 247.6"/>
<path d="M295.0 383.5L704.0 259.1"/>
<path d="M295.0 383.5L709.3 265.6"/>
<path d="M295.0 383.5L706.4 284.8"/>
<path d="M305.0 380.5L726.3 182.4"/>
<path d="M305.0 380.5L741.5 162.5"/>
<path d="M305.0 380.5L743.5 160.5"/>
<path d="M305.0 380.5L794.4 166.3"/>
<path d="M305.0 380.5L741.6 179.3"/>
<path d="M305.0 380.5L790.3 189.6"/>
<path d="M305.0 380.5L770.4 197.3"/>
<path d="M305.0 380.5L711.2 226.1"/>
<path d="M305.0 380.5L783.1 215.3"/>
<path d="M305.0 380.5L678.2 236.6"/>
<path d="M305.0 380.5L675.9 267.3"/>
<path d="M305.0 380.5L691.5 267.0"/>
<path d="M305.0 380.5L708.3 243.3"/>
<path d="M305.0 380.5L705.9 247.6"/>
<path d="M305.0 380.5L704.0 259.1"/>
<path d="M305.0 380.5L709.3 265.6"/>
<path d="M305.0 380.5L715.5 269.9"/>
<path d="M305.0 380.5L721.5 278.2"/>
<path d="M293.0 391.0L646.4 214.1"/>
<path d="M293.0 391.0L574.4 231.2"/>
<path d="M293.0 391.0L711.2 226.1"/>
<path d="M293.0 391.0L690.5 233.0"/>
<path d="M293.0 391.0L678.2 236.6"/>
<path d="M293.0 391.0L589.3 248.8"/>
<path d="M293.0 391.0L589.3 257.2"/>
<path d="M293.0 391.0L663.2 253.1"/>
<path d="M293.0 391.0L675.9 267.3"/>
<path d="M293.0 391.0L691.5 267.0"/>
<path d="M293.0 391.0L708.3 243.3"/>
<path d="M293.0 391.0L705.9 247.6"/>
<path d="M293.0 391.0L704.0 259.1"/>
<path d="M293.0 391.0L709.3 265.6"/>
<path d="M293.0 391.0L715.5 269.9"/>
<path d="M293.0 391.0L706.4 284.8"/>
<path d="M293.0 391.0L656.5 327.3"/>
<path d="M293.0 391.0L680.5 340.7"/>
<path d="M306.7 349.5L443.3 113.6"/>
<path d="M280.2 373.7L426.2 133.4"/>
<path d="M323.2 364.5L443.8 100.1"/>
</g>
<g stroke-opacity="0.01177">
<path d="M188.0 260.0L428.0 97.4"/>
<path d="M188.0 260.0L404.6 98.3"/>
<path d="M188.0 260.0L410.0 100.1"/>
<path d="M174.4 264.4L401.0 105.5"/>
<path d="M232.0 287.6L431.6 107.3"/>
<path d="M176.6 321.6L413.6 130.7"/>
<path d="M202.0 311.4L413.6 130.7"/>
<path d="M211.0 303.6L419.0 128.9"/>
<path d="M171.0 310.4L384.4 125.8"/>
<path d="M174.0 309.0L408.2 127.1"/>
<path d="M183.0 309.0L416.0 128.0"/>
<path d="M184.4 313.0L419.0 128.9"/>
<path d="M184.4 313.0L416.0 128.0"/>
<path d="M189.0 304.0L410.0 136.1"/>
<path d="M189.0 304.0L422.6 126.2"/>
<path d="M160.0 285.6L399.0 108.0"/>
<path d="M165.0 283.0L401.0 112.7"/>
<path d="M169.0 287.0L383.0 105.0"/>
<path d="M169.0 287.0L384.4 125.8"/>
<path d="M169.0 287.0L402.0 121.0"/>
<path d="M200.0 276.0L413.6 103.7"/>
<path d="M200.0 276.0L422.6 108.2"/>
<path d="M204.0 276.0L443.8 100.1"/>
<path d="M210.0 274.0L432.5 77.2"/>
<path d="M210.0 274.0L423.1 88.9"/>
<path d="M210.0 274.0L427.1 103.7"/>
<path d="M210.0 274.0L431.6 107.3"/>
<path d="M210.0 281.0L436.1 90.2"/>
<path d="M210.0 281.0L422.6 108.2"/>
<path d="M207.0 284.0L443.8 100.1"/>
<path d="M207.0 284.0L428.0 97.4"/>
<path d="M191.0 283.0L408.2 110.0"/>
<path d="M191.0 283.0L411.8 117.2"/>
<path d="M191.0 283.0L417.2 118.1"/>
<path d="M194.0 287.0L413.6 103.7"/>
<path d="M194.0 287.0L419.0 105.5"/>
<path d="M194.0 287.0L422.6 126.2"/>
<path d="M198.0 289.0L422.6 108.2"/>
<path d="M198.0 289.0L415.0 110.0"/>
<path d="M204.0 295.0L443.3 113.6"/>
<path d="M204.0 295.0L417.2 118.1"/>
<path d="M188.0 298.0L419.0 134.3"/>
<path d="M188.0 298.0L408.2 127.1"/>
<path d="M188.0 298.0L410.0 123.0"/>
<path d="M174.0 297.0L384.4 125.8"/>
<path d="M174.0 297.0L406.4 119.0"/>
<path d="M174.0 297.0L403.0 117.0"/>
<path d="M172.0 293.0L401.0 112.7"/>
<path d="M172.0 293.0L408.2 127.1"/>
<path d="M172.0 293.0L410.0 123.0"/>
<path d="M176.0 293.0L411.8 117.2"/>
<path d="M176.0 293.0L414.5 124.4"/>
<path d="M180.0 289.0L401.0 112.7"/>
<path d="M180.0 289.0L411.8 117.2"/>
<path d="M180.0 289.0L403.7 123.5"/>
<path d="M180.0 289.0L403.0 117.0"/>
<path d="M180.0 289.0L402.0 121.0"/>
<path d="M182.0 285.0L413.6 103.7"/>
<path d="M182.0 285.0L411.8 117.2"/>
<path d="M170.0 292.0L395.6 109.1"/>
<path d="M170.0 292.0L401.0 112.7"/>
<path d="M170.0 292.0L406.4 119.0"/>
<path d="M178.0 284.0L395.6 109.1"/>
<path d="M178.0 284.0L399.0 108.0"/>
<path d="M178.0 284.0L404.0 103.0"/>
<path d="M185.0 288.0L406.4 119.0"/>
<path d="M185.0 288.0L414.5 124.4"/>
<path d="M185.0 288.0L409.0 106.0"/>
<path d="M185.0 288.0L415.0 110.0"/>
<path d="M185.0 288.0L410.0 123.0"/>
<path d="M192.0 280.0L427.1 103.7"/>
<path d="M176.0 296.0L414.5 124.4"/>
<path d="M176.0 296.0L405.5 131.6"/>
<path d="M176.0 296.0L403.0 117.0"/>
<path d="M167.0 279.0L376.7 116.3"/>
<path d="M167.0 279.0L404.6 98.3"/>
<path d="M167.0 279.0L407.0 101.0"/>
<path d="M183.0 301.0L419.0 134.3"/>
<path d="M183.0 301.0L414.5 124.4"/>
<path d="M183.0 301.0L419.0 128.9"/>
<path d="M183.0 301.0L410.0 123.0"/>
<path d="M197.0 285.0L427.1 103.7"/>
<path d="M197.0 285.0L431.6 107.3"/>
<path d="M197.0 285.0L413.6 103.7"/>
<path d="M205.0 280.0L442.4 92.9"/>
<path d="M172.0 285.0L383.0 105.0"/>
<path d="M172.0 285.0L381.2 110.0"/>
<path d="M172.0 285.0L409.0 106.0"/>
<path d="M172.0 285.0L402.0 121.0"/>
<path d="M186.0 278.0L404.6 98.3"/>
<path d="M186.0 278.0L415.0 110.0"/>
<path d="M190.0 295.0L427.1 121.7"/>
<path d="M190.0 295.0L413.6 130.7"/>
<path d="M190.0 295.0L417.2 118.1"/>
<path d="M190.0 295.0L410.0 123.0"/>
<path d="M179.0 291.0L401.0 112.7"/>
<path d="M179.0 291.0L408.2 110.0"/>
<path d="M179.0 291.0L411.8 117.2"/>
<path d="M271.0 352.5L589.3 248.8"/>
<path d="M306.7 349.5L677.6 172.1"/>
<path d="M306.7 349.5L741.6 179.3"/>
<path d="M284.8 358.7L726.3 182.4"/>
<path d="M284.8 358.7L741.5 162.5"/>
<path d="M284.8 358.7L754.3 162.2"/>
<path d="M284.8 358.7L646.4 214.1"/>
<path d="M296.8 359.4L630.3 195.1"/>
<path d="M289.4 365.6L743.5 160.5"/>
<path d="M289.4 365.6L754.3 162.2"/>
<path d="M289.4 365.6L646.4 214.1"/>
<path d="M295.9 369.0L726.3 182.4"/>
<path d="M295.9 369.0L743.5 160.5"/>
<path d="M295.9 369.0L754.3 162.2"/>
<path d="M295.9 369.0L741.6 179.3"/>
<path d="M295.9 369.0L630.3 195.1"/>
<path d="M295.9 369.0L646.4 214.1"/>
<path d="M307.1 366.8L677.6 172.1"/>
<path d="M307.1 366.8L726.3 182.4"/>
<path d="M307.1 366.8L794.4 166.3"/>
<path d="M307.1 366.8L790.3 189.6"/>
<path d="M307.1 366.8L770.4 197.3"/>
<path d="M323.2 364.5L702.3 154.1"/>
<path d="M323.2 364.5L726.3 182.4"/>
<path d="M280.2 373.7L700.4 141.1"/>
<path d="M280.2 373.7L690.5 233.0"/>
<path d="M280.2 373.7L663.2 253.1"/>
<path d="M276.3 377.6L677.6 172.1"/>
<path d="M276.3 377.6L616.9 288.2"/>
<path d="M273.3 381.0L642.3 298.0"/>
<path d="M273.3 381.0L663.2 253.1"/>
<path d="M313.6 374.8L726.3 182.4"/>
<path d="M313.6 374.8L741.5 162.5"/>
<path d="M313.6 374.8L743.5 160.5"/>
<path d="M313.6 374.8L754.3 162.2"/>
<path d="M313.6 374.8L741.6 179.3"/>
<path d="M313.6 374.8L770.4 197.3"/>
<path d="M321.6 374.8L741.5 162.5"/>
<path d="M321.6 374.8L783.1 215.3"/>
<path d="M321.6 374.8L781.4 230.4"/>
<path d="M301.6 378.7L737.1 216.2"/>
<path d="M301.6 378.7L690.5 233.0"/>
<path d="M301.6 378.7L678.2 236.6"/>
<path d="M321.6 380.6L754.3 162.2"/>
<path d="M321.6 380.6L790.3 189.6"/>
<path d="M321.6 380.6L770.4 197.3"/>
<path d="M321.6 380.6L737.1 216.2"/>
<path d="M321.6 380.6L781.4 230.4"/>
<path d="M321.6 380.6L792.5 245.9"/>
<path d="M321.6 380.6L804.2 255.3"/>
<path d="M298.6 386.3L711.2 226.1"/>
<path d="M298.6 386.3L690.5 233.0"/>
<path d="M298.6 386.3L678.2 236.6"/>
<path d="M298.6 386.3L658.4 278.8"/>
<path d="M298.6 386.3L663.2 253.1"/>
<path d="M298.6 386.3L668.5 265.1"/>
<path d="M298.6 386.3L675.9 267.3"/>
<path d="M298.6 386.3L691.5 267.0"/>
<path d="M305.5 385.2L739.5 231.0"/>
<path d="M305.5 385.2L704.0 259.1"/>
<path d="M311.3 386.3L737.1 216.2"/>
<path d="M311.3 386.3L739.5 231.0"/>
<path d="M321.6 386.3L790.3 189.6"/>
<path d="M321.6 386.3L770.4 197.3"/>
<path d="M321.6 386.3L783.1 215.3"/>
<path d="M321.6 386.3L739.5 231.0"/>
<path d="M321.6 386.3L781.4 230.4"/>
<path d="M321.6 386.3L804.2 255.3"/>
<path d="M287.6 390.2L574.4 231.2"/>
<path d="M287.6 390.2L675.9 267.3"/>
<path d="M287.6 390.2L679.3 283.8"/>
<path d="M287.6 390.2L691.5 267.0"/>
<path d="M296.3 391.6L642.3 298.0"/>
<path d="M296.3 391.6L658.4 278.8"/>
<path d="M296.3 391.6L663.2 253.1"/>
<path d="M296.3 391.6L668.5 265.1"/>
<path d="M296.3 391.6L675.9 267.3"/>
<path d="M296.3 391.6L704.0 259.1"/>
<path d="M296.3 391.6L706.4 284.8"/>
<path d="M296.3 391.6L656.5 327.3"/>
<path d="M296.3 391.6L680.5 340.7"/>
<path d="M329.7 390.9L790.3 189.6"/>
<path d="M329.7 390.9L783.1 215.3"/>
<path d="M329.7 390.9L781.4 230.4"/>
<path d="M329.7 390.9L745.9 271.1"/>
<path d="M329.7 390.9L750.2 285.3"/>
<path d="M320.5 392.0L804.2 255.3"/>
<path d="M320.5 392.0L745.9 271.1"/>
<path d="M320.5 392.0L750.2 285.3"/>
<path d="M320.5 392.0L821.5 332.1"/>
<path d="M287.6 395.5L589.3 248.8"/>
<path d="M287.6 395.5L589.3 257.2"/>
<path d="M287.6 395.5L658.4 278.8"/>
<path d="M287.6 395.5L679.3 283.8"/>
<path d="M287.6 395.5L680.5 340.7"/>
<path d="M306.7 394.8L709.3 265.6"/>
<path d="M306.7 394.8L721.5 278.2"/>
<path d="M306.7 394.8L706.4 284.8"/>
<path d="M306.7 394.8L680.5 340.7"/>
<path d="M306.7 394.8L731.2 338.4"/>
<path d="M306.7 394.8L745.9 271.1"/>
<path d="M306.7 394.8L750.2 285.3"/>
<path d="M296.3 397.8L616.9 288.2"/>
<path d="M296.3 397.8L658.4 278.8"/>
<path d="M296.3 397.8L675.9 267.3"/>
<path d="M296.3 397.8L679.3 283.8"/>
<path d="M296.3 397.8L706.4 284.8"/>
<path d="M296.3 397.8L731.2 338.4"/>
<path d="M314.7 397.8L709.3 265.6"/>
<path d="M314.7 397.8L715.5 269.9"/>
<path d="M314.7 397.8L721.5 278.2"/>
<path d="M314.7 397.8L706.4 284.8"/>
<path d="M314.7 397.8L680.5 340.7"/>
<path d="M314.7 397.8L804.2 255.3"/>
<path d="M314.7 397.8L745.9 271.1"/>
<path d="M314.7 397.8L750.2 285.3"/>
<path d="M353.8 400.6L781.4 230.4"/>
<path d="M323.9 402.4L721.5 278.2"/>
<path d="M323.9 402.4L680.5 340.7"/>
<path d="M323.9 402.4L792.5 245.9"/>
<path d="M323.9 402.4L745.9 271.1"/>
<path d="M283.7 405.2L589.3 248.8"/>
<path d="M283.7 405.2L589.3 257.2"/>
<path d="M283.7 405.2L679.3 283.8"/>
<path d="M283.7 405.2L731.2 338.4"/>
<path d="M295.9 404.7L668.5 265.1"/>
<path d="M295.9 404.7L679.3 283.8"/>
<path d="M295.9 404.7L706.4 284.8"/>
<path d="M317.0 427.7L750.2 285.3"/>
<path d="M299.5 382.0L711.2 226.1"/>
<path d="M299.5 382.0L690.5 233.0"/>
<path d="M299.5 382.0L678.2 236.6"/>
<path d="M304.0 388.5L729.3 234.2"/>
<path d="M304.0 388.5L705.9 247.6"/>
<path d="M304.0 388.5L709.3 265.6"/>
<path d="M304.0 388.5L715.5 269.9"/>
<path d="M308.5 381.5L729.3 234.2"/>
<path d="M299.0 390.5L642.3 298.0"/>
<path d="M299.0 390.5L675.9 267.3"/>
<path d="M312.5 391.0L715.5 269.9"/>
<path d="M312.5 391.0L721.5 278.2"/>
<path d="M312.5 391.0L745.9 271.1"/>
<path d="M316.5 384.0L794.4 166.3"/>
<path d="M316.5 384.0L770.4 197.3"/>
<path d="M316.5 384.0L783.1 215.3"/>
<path d="M316.5 384.0L781.4 230.4"/>
<path d="M316.5 384.0L792.5 245.9"/>
<path d="M317.5 389.5L781.4 230.4"/>
<path d="M317.5 389.5L721.5 278.2"/>
<path d="M317.5 389.5L792.5 245.9"/>
<path d="M317.5 389.5L804.2 255.3"/>
<path d="M302.5 394.0L642.3 298.0"/>
<path d="M302.5 394.0L715.5 269.9"/>
<path d="M302.5 394.0L706.4 284.8"/>
<path d="M302.5 394.0L680.5 340.7"/>
<path d="M302.5 394.0L731.2 338.4"/>
<path d="M309.0 388.0L729.3 234.2"/>
<path d="M309.0 388.0L708.3 243.3"/>
<path d="M309.0 388.0L709.3 265.6"/>
<path d="M309.0 388.0L721.5 278.2"/>
<path d="M295.0 383.5L678.2 236.6"/>
<path d="M295.0 383.5L658.4 278.8"/>
<path d="M295.0 383.5L663.2 253.1"/>
<path d="M295.0 383.5L675.9 267.3"/>
<path d="M305.0 380.5L737.1 216.2"/>
<path d="M305.0 380.5L690.5 233.0"/>
<path d="M305.0 380.5L729.3 234.2"/>
<path d="M305.0 380.5L739.5 231.0"/>
<path d="M293.0 391.0L616.9 288.2"/>
<path d="M293.0 391.0L642.3 298.0"/>
<path d="M293.0 391.0L658.4 278.8"/>
<path d="M293.0 391.0L668.5 265.1"/>
<path d="M293.0 391.0L679.3 283.8"/>
<path d="M289.4 365.6L435.2 129.8"/>
<path d="M295.9 369.0L435.2 129.8"/>
<path d="M276.3 377.6L447.3 146.0"/>
<path d="M313.6 374.8L447.3 146.0"/>
</g>
<g stroke-opacity="0.01570">
<path d="M180.0 257.6L407.0 101.0"/>
<path d="M188.0 260.0L436.1 90.2"/>
<path d="M170.0 276.0L410.0 100.1"/>
<path d="M211.0 303.6L419.0 134.3"/>
<path d="M171.0 310.4L412.0 133.0"/>
<path d="M174.0 309.0L413.6 130.7"/>
<path d="M183.0 309.0L405.5 131.6"/>
<path d="M184.4 313.0L426.2 133.4"/>
<path d="M189.0 304.0L426.2 133.4"/>
<path d="M189.0 304.0L413.6 130.7"/>
<path d="M189.0 304.0L419.0 128.9"/>
<path d="M189.0 304.0L412.0 133.0"/>
<path d="M165.0 283.0L401.0 105.5"/>
<path d="M169.0 287.0L401.0 105.5"/>
<path d="M169.0 287.0L403.0 117.0"/>
<path d="M180.0 279.0L408.2 110.0"/>
<path d="M180.0 279.0L399.0 108.0"/>
<path d="M200.0 276.0L436.1 90.2"/>
<path d="M200.0 276.0L431.6 107.3"/>
<path d="M200.0 276.0L419.0 105.5"/>
<path d="M204.0 276.0L423.1 88.9"/>
<path d="M204.0 276.0L431.6 107.3"/>
<path d="M210.0 281.0L428.0 97.4"/>
<path d="M210.0 281.0L427.1 103.7"/>
<path d="M207.0 284.0L427.1 121.7"/>
<path d="M207.0 284.0L422.6 108.2"/>
<path d="M191.0 283.0L419.0 105.5"/>
<path d="M191.0 283.0L422.6 108.2"/>
<path d="M191.0 283.0L409.0 106.0"/>
<path d="M194.0 287.0L427.1 121.7"/>
<path d="M194.0 287.0L411.8 117.2"/>
<path d="M194.0 287.0L422.6 108.2"/>
<path d="M194.0 287.0L415.0 110.0"/>
<path d="M204.0 295.0L416.0 128.0"/>
<path d="M188.0 292.0L411.8 117.2"/>
<path d="M188.0 292.0L417.2 118.1"/>
<path d="M188.0 292.0L422.6 126.2"/>
<path d="M188.0 292.0L419.0 128.9"/>
<path d="M188.0 292.0L410.0 123.0"/>
<path d="M188.0 292.0L416.0 128.0"/>
<path d="M188.0 298.0L414.5 124.4"/>
<path d="M188.0 298.0L422.6 126.2"/>
<path d="M174.0 297.0L405.5 131.6"/>
<path d="M174.0 297.0L410.0 123.0"/>
<path d="M172.0 293.0L384.4 125.8"/>
<path d="M172.0 293.0L406.4 119.0"/>
<path d="M172.0 293.0L403.0 117.0"/>
<path d="M176.0 293.0L406.4 119.0"/>
<path d="M176.0 293.0L408.2 127.1"/>
<path d="M176.0 293.0L403.7 123.5"/>
<path d="M176.0 293.0L403.0 117.0"/>
<path d="M176.0 293.0L410.0 123.0"/>
<path d="M176.0 293.0L402.0 121.0"/>
<path d="M180.0 289.0L408.2 110.0"/>
<path d="M180.0 289.0L406.4 119.0"/>
<path d="M180.0 289.0L410.0 123.0"/>
<path d="M182.0 285.0L408.2 110.0"/>
<path d="M182.0 285.0L409.0 106.0"/>
<path d="M182.0 285.0L415.0 110.0"/>
<path d="M170.0 292.0L376.7 116.3"/>
<path d="M170.0 292.0L403.7 123.5"/>
<path d="M170.0 292.0L403.0 117.0"/>
<path d="M178.0 284.0L401.0 105.5"/>
<path d="M178.0 284.0L401.0 112.7"/>
<path d="M178.0 284.0L408.2 110.0"/>
<path d="M178.0 284.0L409.0 106.0"/>
<path d="M185.0 288.0L408.2 110.0"/>
<path d="M185.0 288.0L411.8 117.2"/>
<path d="M185.0 288.0L417.2 118.1"/>
<path d="M192.0 280.0L410.0 100.1"/>
<path d="M192.0 280.0L422.6 108.2"/>
<path d="M192.0 280.0L409.0 106.0"/>
<path d="M192.0 280.0L415.0 110.0"/>
<path d="M176.0 296.0L406.4 119.0"/>
<path d="M176.0 296.0L410.0 123.0"/>
<path d="M176.0 296.0L402.0 121.0"/>
<path d="M183.0 301.0L408.2 127.1"/>
<path d="M183.0 301.0L405.5 131.6"/>
<path d="M183.0 301.0L412.0 133.0"/>
<path d="M197.0 285.0L427.1 121.7"/>
<path d="M197.0 285.0L419.0 105.5"/>
<path d="M197.0 285.0L417.2 118.1"/>
<path d="M197.0 285.0L415.0 110.0"/>
<path d="M205.0 280.0L436.1 90.2"/>
<path d="M205.0 280.0L443.8 100.1"/>
<path d="M205.0 280.0L443.3 113.6"/>
<path d="M205.0 280.0L419.0 105.5"/>
<path d="M172.0 285.0L408.2 110.0"/>
<path d="M172.0 285.0L404.0 103.0"/>
<path d="M186.0 278.0L419.0 105.5"/>
<path d="M186.0 278.0L404.0 103.0"/>
<path d="M186.0 278.0L407.0 101.0"/>
<path d="M190.0 295.0L414.5 124.4"/>
<path d="M190.0 295.0L422.6 126.2"/>
<path d="M190.0 295.0L419.0 128.9"/>
<path d="M179.0 291.0L406.4 119.0"/>
<path d="M179.0 291.0L403.7 123.5"/>
<path d="M179.0 291.0L403.0 117.0"/>
<path d="M179.0 291.0L410.0 123.0"/>
<path d="M179.0 291.0L402.0 121.0"/>
<path d="M271.0 352.5L646.4 214.1"/>
<path d="M306.7 349.5L726.3 182.4"/>
<path d="M284.8 358.7L743.5 160.5"/>
<path d="M296.8 359.4L726.3 182.4"/>
<path d="M296.8 359.4L741.5 162.5"/>
<path d="M296.8 359.4L754.3 162.2"/>
<path d="M296.8 359.4L741.6 179.3"/>
<path d="M289.4 365.6L702.3 154.1"/>
<path d="M289.4 365.6L726.3 182.4"/>
<path d="M289.4 365.6L741.5 162.5"/>
<path d="M289.4 365.6L630.3 195.1"/>
<path d="M295.9 369.0L647.6 136.3"/>
<path d="M295.9 369.0L700.4 141.1"/>
<path d="M295.9 369.0L702.3 154.1"/>
<path d="M295.9 369.0L677.6 172.1"/>
<path d="M295.9 369.0L741.5 162.5"/>
<path d="M307.1 366.8L700.4 141.1"/>
<path d="M307.1 366.8L702.3 154.1"/>
<path d="M307.1 366.8L743.5 160.5"/>
<path d="M307.1 366.8L754.3 162.2"/>
<path d="M307.1 366.8L741.6 179.3"/>
<path d="M323.2 364.5L741.5 162.5"/>
<path d="M323.2 364.5L743.5 160.5"/>
<path d="M323.2 364.5L741.6 179.3"/>
<path d="M323.2 364.5L770.4 197.3"/>
<path d="M258.9 374.4L647.6 136.3"/>
<path d="M258.9 374.4L616.9 288.2"/>
<path d="M280.2 373.7L647.6 136.3"/>
<path d="M280.2 373.7L677.6 172.1"/>
<path d="M280.2 373.7L589.3 248.8"/>
<path d="M276.3 377.6L646.4 214.1"/>
<path d="M273.3 381.0L630.3 195.1"/>
<path d="M273.3 381.0L646.4 214.1"/>
<path d="M313.6 374.8L794.4 166.3"/>
<path d="M313.6 374.8L790.3 189.6"/>
<path d="M321.6 374.8L743.5 160.5"/>
<path d="M321.6 374.8L754.3 162.2"/>
<path d="M321.6 374.8L741.6 179.3"/>
<path d="M321.6 374.8L770.4 197.3"/>
<path d="M321.6 374.8L865.7 200.4"/>
<path d="M321.6 380.6L794.4 166.3"/>
<path d="M321.6 380.6L865.7 200.4"/>
<path d="M321.6 380.6L783.1 215.3"/>
<path d="M347.6 378.7L770.4 197.3"/>
<path d="M347.6 378.7L781.4 230.4"/>
<path d="M321.6 386.3L865.7 200.4"/>
<path d="M321.6 386.3L792.5 245.9"/>
<path d="M287.6 390.2L589.3 248.8"/>
<path d="M287.6 390.2L589.3 257.2"/>
<path d="M287.6 390.2L616.9 288.2"/>
<path d="M287.6 390.2L642.3 298.0"/>
<path d="M287.6 390.2L658.4 278.8"/>
<path d="M329.7 390.9L792.5 245.9"/>
<path d="M329.7 390.9L811.1 339.4"/>
<path d="M320.5 392.0L792.5 245.9"/>
<path d="M320.5 392.0L811.1 339.4"/>
<path d="M287.6 395.5L642.3 298.0"/>
<path d="M287.6 395.5L656.5 327.3"/>
<path d="M296.3 397.8L642.3 298.0"/>
<path d="M296.3 397.8L656.5 327.3"/>
<path d="M296.3 397.8L680.5 340.7"/>
<path d="M314.7 397.8L731.2 338.4"/>
<path d="M314.7 397.8L821.5 332.1"/>
<path d="M314.7 397.8L811.1 339.4"/>
<path d="M323.9 402.4L804.2 255.3"/>
<path d="M323.9 402.4L750.2 285.3"/>
<path d="M283.7 405.2L658.4 278.8"/>
<path d="M295.9 404.7L616.9 288.2"/>
<path d="M295.9 404.7L642.3 298.0"/>
<path d="M295.9 404.7L658.4 278.8"/>
<path d="M295.9 404.7L731.2 338.4"/>
<path d="M271.0 352.5L447.3 146.0"/>
<path d="M284.8 358.7L447.3 146.0"/>
<path d="M296.8 359.4L447.3 146.0"/>
<path d="M258.9 374.4L447.3 146.0"/>
<path d="M307.1 366.8L447.3 146.0"/>
</g>
<g stroke-opacity="0.01962">
<path d="M174.4 264.4L423.1 88.9"/>
<path d="M166.0 273.0L381.2 110.0"/>
<path d="M166.0 273.0L395.6 109.1"/>
<path d="M166.0 273.0L401.0 105.5"/>
<path d="M166.0 273.0L399.0 108.0"/>
<path d="M166.0 273.0L407.0 101.0"/>
<path d="M170.0 276.0L395.6 109.1"/>
<path d="M170.0 276.0L407.0 101.0"/>
<path d="M202.0 311.4L422.6 126.2"/>
<path d="M174.0 309.0L405.5 131.6"/>
<path d="M174.0 309.0L412.0 133.0"/>
<path d="M183.0 309.0L419.0 134.3"/>
<path d="M183.0 309.0L407.3 136.1"/>
<path d="M183.0 309.0L413.6 130.7"/>
<path d="M183.0 309.0L410.0 136.1"/>
<path d="M189.0 304.0L419.0 134.3"/>
<path d="M189.0 304.0L416.0 128.0"/>
<path d="M160.0 285.6L395.6 109.1"/>
<path d="M165.0 283.0L399.0 108.0"/>
<path d="M169.0 287.0L381.2 110.0"/>
<path d="M169.0 287.0L376.7 116.3"/>
<path d="M180.0 279.0L404.6 98.3"/>
<path d="M180.0 279.0L401.0 105.5"/>
<path d="M180.0 279.0L413.6 103.7"/>
<path d="M200.0 276.0L423.1 88.9"/>
<path d="M200.0 276.0L427.1 103.7"/>
<path d="M204.0 276.0L442.4 92.9"/>
<path d="M204.0 276.0L427.1 103.7"/>
<path d="M210.0 274.0L428.0 97.4"/>
<path d="M210.0 281.0L442.4 92.9"/>
<path d="M207.0 284.0L427.1 103.7"/>
<path d="M191.0 283.0L413.6 103.7"/>
<path d="M191.0 283.0L415.0 110.0"/>
<path d="M194.0 287.0L417.2 118.1"/>
<path d="M198.0 289.0L417.2 118.1"/>
<path d="M198.0 289.0L422.6 126.2"/>
<path d="M188.0 292.0L414.5 124.4"/>
<path d="M188.0 298.0L413.6 130.7"/>
<path d="M188.0 298.0L419.0 128.9"/>
<path d="M188.0 298.0L416.0 128.0"/>
<path d="M174.0 297.0L408.2 127.1"/>
<path d="M174.0 297.0L403.7 123.5"/>
<path d="M174.0 297.0L402.0 121.0"/>
<path d="M172.0 293.0L403.7 123.5"/>
<path d="M172.0 293.0L402.0 121.0"/>
<path d="M170.0 292.0L402.0 121.0"/>
<path d="M192.0 280.0L413.6 103.7"/>
<path d="M192.0 280.0L419.0 105.5"/>
<path d="M176.0 296.0L408.2 127.1"/>
<path d="M176.0 296.0L403.7 123.5"/>
<path d="M167.0 279.0L404.0 103.0"/>
<path d="M183.0 301.0L413.6 130.7"/>
<path d="M183.0 301.0L416.0 128.0"/>
<path d="M197.0 285.0L422.6 108.2"/>
<path d="M205.0 280.0L422.6 108.2"/>
<path d="M172.0 285.0L403.0 117.0"/>
<path d="M186.0 278.0L410.0 100.1"/>
<path d="M186.0 278.0L409.0 106.0"/>
<path d="M190.0 295.0L416.0 128.0"/>
<path d="M271.0 352.5L702.3 154.1"/>
<path d="M306.7 349.5L647.6 136.3"/>
<path d="M306.7 349.5L794.4 166.3"/>
<path d="M284.8 358.7L630.3 195.1"/>
<path d="M296.8 359.4L677.6 172.1"/>
<path d="M296.8 359.4L743.5 160.5"/>
<path d="M289.4 365.6L647.6 136.3"/>
<path d="M289.4 365.6L700.4 141.1"/>
<path d="M289.4 365.6L677.6 172.1"/>
<path d="M307.1 366.8L741.5 162.5"/>
<path d="M323.2 364.5L754.3 162.2"/>
<path d="M323.2 364.5L790.3 189.6"/>
<path d="M323.2 364.5L865.7 200.4"/>
<path d="M258.9 374.4L646.4 214.1"/>
<path d="M280.2 373.7L630.3 195.1"/>
<path d="M280.2 373.7L646.4 214.1"/>
<path d="M280.2 373.7L589.3 257.2"/>
<path d="M276.3 377.6L630.3 195.1"/>
<path d="M273.3 381.0L616.9 288.2"/>
<path d="M321.6 374.8L794.4 166.3"/>
<path d="M321.6 374.8L790.3 189.6"/>
<path d="M347.6 378.7L783.1 215.3"/>
<path d="M347.6 378.7L792.5 245.9"/>
<path d="M347.6 378.7L804.2 255.3"/>
<path d="M329.7 390.9L865.7 200.4"/>
<path d="M329.7 390.9L804.2 255.3"/>
<path d="M329.7 390.9L821.5 332.1"/>
<path d="M287.6 395.5L616.9 288.2"/>
<path d="M353.8 400.6L792.5 245.9"/>
<path d="M323.9 402.4L731.2 338.4"/>
<path d="M295.9 404.7L656.5 327.3"/>
</g>
<g stroke-opacity="0.02354">
<path d="M180.0 257.6L410.0 100.1"/>
<path d="M166.0 273.0L404.0 103.0"/>
<path d="M170.0 276.0L383.0 105.0"/>
<path d="M170.0 276.0L404.6 98.3"/>
<path d="M170.0 276.0L401.0 105.5"/>
<path d="M170.0 276.0L399.0 108.0"/>
<path d="M176.6 321.6L419.0 134.3"/>
<path d="M202.0 311.4L419.0 128.9"/>
<path d="M211.0 303.6L427.1 121.7"/>
<path d="M211.0 303.6L422.6 126.2"/>
<path d="M171.0 310.4L407.3 136.1"/>
<path d="M171.0 310.4L410.0 136.1"/>
<path d="M171.0 310.4L405.5 131.6"/>
<path d="M174.0 309.0L407.3 136.1"/>
<path d="M174.0 309.0L410.0 136.1"/>
<path d="M183.0 309.0L412.0 133.0"/>
<path d="M184.4 313.0L405.5 131.6"/>
<path d="M160.0 285.6L384.4 125.8"/>
<path d="M162.0 294.4L381.2 110.0"/>
<path d="M169.0 287.0L395.6 109.1"/>
<path d="M169.0 287.0L401.0 112.7"/>
<path d="M169.0 287.0L399.0 108.0"/>
<path d="M180.0 279.0L410.0 100.1"/>
<path d="M180.0 279.0L409.0 106.0"/>
<path d="M180.0 279.0L404.0 103.0"/>
<path d="M180.0 279.0L407.0 101.0"/>
<path d="M200.0 276.0L428.0 97.4"/>
<path d="M204.0 276.0L436.1 90.2"/>
<path d="M210.0 274.0L443.8 100.1"/>
<path d="M210.0 281.0L443.8 100.1"/>
<path d="M170.0 292.0L384.4 125.8"/>
<path d="M167.0 279.0L381.2 110.0"/>
<path d="M167.0 279.0L401.0 105.5"/>
<path d="M167.0 279.0L399.0 108.0"/>
<path d="M205.0 280.0L428.0 97.4"/>
<path d="M205.0 280.0L427.1 103.7"/>
<path d="M205.0 280.0L431.6 107.3"/>
<path d="M172.0 285.0L395.6 109.1"/>
<path d="M172.0 285.0L401.0 105.5"/>
<path d="M172.0 285.0L401.0 112.7"/>
<path d="M186.0 278.0L413.6 103.7"/>
<path d="M271.0 352.5L677.6 172.1"/>
<path d="M271.0 352.5L574.4 231.2"/>
<path d="M306.7 349.5L702.3 154.1"/>
<path d="M306.7 349.5L741.5 162.5"/>
<path d="M306.7 349.5L743.5 160.5"/>
<path d="M306.7 349.5L754.3 162.2"/>
<path d="M284.8 358.7L700.4 141.1"/>
<path d="M284.8 358.7L702.3 154.1"/>
<path d="M284.8 358.7L677.6 172.1"/>
<path d="M296.8 359.4L647.6 136.3"/>
<path d="M296.8 359.4L700.4 141.1"/>
<path d="M296.8 359.4L702.3 154.1"/>
<path d="M323.2 364.5L794.4 166.3"/>
<path d="M280.2 373.7L574.4 231.2"/>
<path d="M276.3 377.6L574.4 231.2"/>
<path d="M276.3 377.6L589.3 248.8"/>
<path d="M276.3 377.6L589.3 257.2"/>
<path d="M273.3 381.0L589.3 248.8"/>
<path d="M347.6 378.7L794.4 166.3"/>
<path d="M347.6 378.7L790.3 189.6"/>
<path d="M283.7 405.2L616.9 288.2"/>
<path d="M283.7 405.2L642.3 298.0"/>
<path d="M283.7 405.2L656.5 327.3"/>
<path d="M283.7 405.2L680.5 340.7"/>
<path d="M295.9 404.7L680.5 340.7"/>
<path d="M317.0 427.7L656.5 327.3"/>
</g>
<g stroke-opacity="0.02746">
<path d="M174.4 264.4L404.0 103.0"/>
<path d="M166.0 273.0L404.6 98.3"/>
<path d="M170.0 276.0L404.0 103.0"/>
<path d="M232.0 287.6L442.4 92.9"/>
<path d="M232.0 287.6L435.2 129.8"/>
<path d="M176.6 321.6L405.5 131.6"/>
<path d="M174.0 309.0L380.3 135.7"/>
<path d="M184.4 313.0L413.6 130.7"/>
<path d="M165.0 283.0L395.6 109.1"/>
<path d="M204.0 276.0L428.0 97.4"/>
<path d="M210.0 281.0L443.3 113.6"/>
<path d="M210.0 281.0L431.6 107.3"/>
<path d="M207.0 284.0L443.3 113.6"/>
<path d="M207.0 284.0L431.6 107.3"/>
<path d="M198.0 289.0L427.1 121.7"/>
<path d="M204.0 295.0L419.0 128.9"/>
<path d="M167.0 279.0L395.6 109.1"/>
<path d="M172.0 285.0L399.0 108.0"/>
<path d="M271.0 352.5L700.4 141.1"/>
<path d="M271.0 352.5L630.3 195.1"/>
<path d="M306.7 349.5L700.4 141.1"/>
<path d="M284.8 358.7L647.6 136.3"/>
<path d="M258.9 374.4L630.3 195.1"/>
<path d="M273.3 381.0L574.4 231.2"/>
<path d="M273.3 381.0L589.3 257.2"/>
<path d="M353.8 400.6L804.2 255.3"/>
<path d="M323.9 402.4L821.5 332.1"/>
</g>
<g stroke-opacity="0.03138">
<path d="M174.4 264.4L410.0 100.1"/>
<path d="M174.4 264.4L407.0 101.0"/>
<path d="M231.0 266.0L432.5 77.2"/>
<path d="M231.0 266.0L443.8 100.1"/>
<path d="M176.6 321.6L412.0 133.0"/>
<path d="M165.0 283.0L376.7 116.3"/>
<path d="M210.0 274.0L436.1 90.2"/>
<path d="M210.0 274.0L442.4 92.9"/>
<path d="M167.0 279.0L383.0 105.0"/>
<path d="M258.9 374.4L589.3 257.2"/>
<path d="M353.8 400.6L865.7 200.4"/>
<path d="M323.9 402.4L811.1 339.4"/>
</g>
<g stroke-opacity="0.03530">
<path d="M180.0 257.6L404.6 98.3"/>
<path d="M231.0 266.0L436.1 90.2"/>
<path d="M218.0 318.6L426.2 133.4"/>
<path d="M165.0 283.0L383.0 105.0"/>
<path d="M165.0 283.0L381.2 110.0"/>
<path d="M204.0 295.0L426.2 133.4"/>
<path d="M258.9 374.4L589.3 248.8"/>
<path d="M317.0 427.7L680.5 340.7"/>
<path d="M317.0 427.7L821.5 332.1"/>
</g>
<g stroke-opacity="0.03923">
<path d="M166.0 273.0L383.0 105.0"/>
<path d="M202.0 311.4L447.3 146.0"/>
<path d="M171.0 310.4L380.3 135.7"/>
<path d="M184.4 313.0L419.0 134.3"/>
<path d="M184.4 313.0L412.0 133.0"/>
<path d="M160.0 285.6L383.0 105.0"/>
<path d="M271.0 352.5L647.6 136.3"/>
<path d="M258.9 374.4L574.4 231.2"/>
<path d="M353.8 400.6L821.5 332.1"/>
<path d="M353.8 400.6L811.1 339.4"/>
<path d="M317.0 427.7L731.2 338.4"/>
</g>
<g stroke-opacity="0.04315">
<path d="M176.6 321.6L380.3 135.7"/>
<path d="M202.0 311.4L435.2 129.8"/>
<path d="M211.0 303.6L447.3 146.0"/>
<path d="M184.4 313.0L407.3 136.1"/>
<path d="M184.4 313.0L410.0 136.1"/>
<path d="M160.0 285.6L381.2 110.0"/>
<path d="M162.0 294.4L380.3 135.7"/>
<path d="M204.0 295.0L422.6 126.2"/>
<path d="M347.6 378.7L865.7 200.4"/>
<path d="M317.0 427.7L811.1 339.4"/>
</g>
<g stroke-opacity="0.04707">
<path d="M174.4 264.4L404.6 98.3"/>
<path d="M218.0 318.6L435.2 129.8"/>
<path d="M202.0 311.4L419.0 134.3"/>
<path d="M162.0 294.4L376.7 116.3"/>
<path d="M204.0 295.0L435.2 129.8"/>
<path d="M204.0 295.0L427.1 121.7"/>
</g>
<g stroke-opacity="0.05099">
<path d="M180.0 257.6L423.1 88.9"/>
<path d="M231.0 266.0L442.4 92.9"/>
<path d="M211.0 303.6L426.2 133.4"/>
<path d="M160.0 285.6L376.7 116.3"/>
<path d="M162.0 294.4L384.4 125.8"/>
</g>
<g stroke-opacity="0.05883">
<path d="M180.0 257.6L432.5 77.2"/>
<path d="M188.0 260.0L423.1 88.9"/>
<path d="M176.6 321.6L407.3 136.1"/>
<path d="M176.6 321.6L410.0 136.1"/>
</g>
<g stroke-opacity="0.06276">
<path d="M232.0 287.6L443.8 100.1"/>
<path d="M202.0 311.4L426.2 133.4"/>
</g>
<g stroke-opacity="0.07060">
<path d="M188.0 260.0L432.5 77.2"/>
</g>
<g stroke-opacity="0.07452">
<path d="M211.0 303.6L435.2 129.8"/>
</g>
<g stroke-opacity="0.11374">
<path d="M232.0 287.6L443.3 113.6"/>
</g>
<g stroke-opacity="0.15687">
<path d="M218.0 318.6L447.3 146.0"/>
</g></g>
<path d="M175.8 257.6h8.34M180.0 253.4v8.34M183.8 260.0h8.34M188.0 255.8v8.34M170.2 264.4h8.34M174.4 260.2v8.34M161.8 273.0h8.34M166.0 268.8v8.34M165.8 276.0h8.34M170.0 271.8v8.34M226.8 266.0h8.34M231.0 261.8v8.34M227.8 287.6h8.34M232.0 283.4v8.34M213.8 318.6h8.34M218.0 314.4v8.34M172.4 321.6h8.34M176.6 317.4v8.34M197.8 311.4h8.34M202.0 307.2v8.34M206.8 303.6h8.34M211.0 299.4v8.34M166.8 310.4h8.34M171.0 306.2v8.34M169.8 309.0h8.34M174.0 304.8v8.34M178.8 309.0h8.34M183.0 304.8v8.34M180.2 313.0h8.34M184.4 308.8v8.34M184.8 304.0h8.34M189.0 299.8v8.34M155.8 285.6h8.34M160.0 281.4v8.34M160.8 283.0h8.34M165.0 278.8v8.34M157.8 294.4h8.34M162.0 290.2v8.34M164.8 287.0h8.34M169.0 282.8v8.34M175.8 279.0h8.34M180.0 274.8v8.34M195.8 276.0h8.34M200.0 271.8v8.34M199.8 276.0h8.34M204.0 271.8v8.34M205.8 274.0h8.34M210.0 269.8v8.34M205.8 281.0h8.34M210.0 276.8v8.34M202.8 284.0h8.34M207.0 279.8v8.34M186.8 283.0h8.34M191.0 278.8v8.34M189.8 287.0h8.34M194.0 282.8v8.34M193.8 289.0h8.34M198.0 284.8v8.34M199.8 295.0h8.34M204.0 290.8v8.34M183.8 292.0h8.34M188.0 287.8v8.34M183.8 298.0h8.34M188.0 293.8v8.34M169.8 297.0h8.34M174.0 292.8v8.34M167.8 293.0h8.34M172.0 288.8v8.34M171.8 293.0h8.34M176.0 288.8v8.34M175.8 289.0h8.34M180.0 284.8v8.34M177.8 285.0h8.34M182.0 280.8v8.34M165.8 292.0h8.34M170.0 287.8v8.34M173.8 284.0h8.34M178.0 279.8v8.34M180.8 288.0h8.34M185.0 283.8v8.34M187.8 280.0h8.34M192.0 275.8v8.34M171.8 296.0h8.34M176.0 291.8v8.34M162.8 279.0h8.34M167.0 274.8v8.34M178.8 301.0h8.34M183.0 296.8v8.34M192.8 285.0h8.34M197.0 280.8v8.34M200.8 280.0h8.34M205.0 275.8v8.34M167.8 285.0h8.34M172.0 280.8v8.34M181.8 278.0h8.34M186.0 273.8v8.34M185.8 295.0h8.34M190.0 290.8v8.34M174.8 291.0h8.34M179.0 286.8v8.34M266.8 352.5h8.34M271.0 348.3v8.34M302.5 349.5h8.34M306.7 345.3v8.34M280.6 358.7h8.34M284.8 354.5v8.34M292.6 359.4h8.34M296.8 355.2v8.34M285.2 365.6h8.34M289.4 361.4v8.34M291.7 369.0h8.34M295.9 364.8v8.34M302.9 366.8h8.34M307.1 362.6v8.34M319.0 364.5h8.34M323.2 360.3v8.34M254.7 374.4h8.34M258.9 370.2v8.34M276.0 373.7h8.34M280.2 369.5v8.34M272.1 377.6h8.34M276.3 373.4v8.34M269.1 381.0h8.34M273.3 376.8v8.34M309.4 374.8h8.34M313.6 370.6v8.34M317.4 374.8h8.34M321.6 370.6v8.34M297.4 378.7h8.34M301.6 374.5v8.34M317.4 380.6h8.34M321.6 376.4v8.34M343.4 378.7h8.34M347.6 374.5v8.34M294.4 386.3h8.34M298.6 382.1v8.34M301.3 385.2h8.34M305.5 381.0v8.34M307.1 386.3h8.34M311.3 382.1v8.34M317.4 386.3h8.34M321.6 382.1v8.34M283.4 390.2h8.34M287.6 386.0v8.34M292.1 391.6h8.34M296.3 387.4v8.34M325.5 390.9h8.34M329.7 386.7v8.34M316.3 392.0h8.34M320.5 387.8v8.34M283.4 395.5h8.34M287.6 391.3v8.34M302.5 394.8h8.34M306.7 390.6v8.34M292.1 397.8h8.34M296.3 393.6v8.34M310.5 397.8h8.34M314.7 393.6v8.34M349.6 400.6h8.34M353.8 396.4v8.34M319.7 402.4h8.34M323.9 398.2v8.34M279.5 405.2h8.34M283.7 401.0v8.34M291.7 404.7h8.34M295.9 400.5v8.34M312.8 427.7h8.34M317.0 423.5v8.34M295.3 382.0h8.34M299.5 377.8v8.34M299.8 388.5h8.34M304.0 384.3v8.34M304.3 381.5h8.34M308.5 377.3v8.34M294.8 390.5h8.34M299.0 386.3v8.34M308.3 391.0h8.34M312.5 386.8v8.34M312.3 384.0h8.34M316.5 379.8v8.34M313.3 389.5h8.34M317.5 385.3v8.34M298.3 394.0h8.34M302.5 389.8v8.34M304.8 388.0h8.34M309.0 383.8v8.34M290.8 383.5h8.34M295.0 379.3v8.34M300.8 380.5h8.34M305.0 376.3v8.34M288.8 391.0h8.34M293.0 386.8v8.34" stroke="#1f77b4" stroke-width="2.08" fill="none"/>
<g fill="#ff7f0e" stroke="#ff7f0e" stroke-width="1.39">
<circle cx="432.5" cy="77.2" r="4.17"/>
<circle cx="423.1" cy="88.9" r="4.17"/>
<circle cx="436.1" cy="90.2" r="4.17"/>
<circle cx="442.4" cy="92.9" r="4.17"/>
<circle cx="443.8" cy="100.1" r="4.17"/>
<circle cx="443.3" cy="113.6" r="4.17"/>
<circle cx="435.2" cy="129.8" r="4.17"/>
<circle cx="447.3" cy="146.0" r="4.17"/>
<circle cx="383.0" cy="105.0" r="4.17"/>
<circle cx="381.2" cy="110.0" r="4.17"/>
<circle cx="376.7" cy="116.3" r="4.17"/>
<circle cx="384.4" cy="125.8" r="4.17"/>
<circle cx="380.3" cy="135.7" r="4.17"/>
<circle cx="428.0" cy="97.4" r="4.17"/>
<circle cx="427.1" cy="103.7" r="4.17"/>
<circle cx="431.6" cy="107.3" r="4.17"/>
<circle cx="427.1" cy="121.7" r="4.17"/>
<circle cx="426.2" cy="133.4" r="4.17"/>
<circle cx="419.0" cy="134.3" r="4.17"/>
<circle cx="407.3" cy="136.1" r="4.17"/>
<circle cx="404.6" cy="98.3" r="4.17"/>
<circle cx="410.0" cy="100.1" r="4.17"/>
<circle cx="395.6" cy="109.1" r="4.17"/>
<circle cx="401.0" cy="105.5" r="4.17"/>
<circle cx="413.6" cy="103.7" r="4.17"/>
<circle cx="419.0" cy="105.5" r="4.17"/>
<circle cx="401.0" cy="112.7" r="4.17"/>
<circle cx="408.2" cy="110.0" r="4.17"/>
<circle cx="406.4" cy="119.0" r="4.17"/>
<circle cx="411.8" cy="117.2" r="4.17"/>
<circle cx="414.5" cy="124.4" r="4.17"/>
<circle cx="408.2" cy="127.1" r="4.17"/>
<circle cx="413.6" cy="130.7" r="4.17"/>
<circle cx="417.2" cy="118.1" r="4.17"/>
<circle cx="422.6" cy="108.2" r="4.17"/>
<circle cx="403.7" cy="123.5" r="4.17"/>
<circle cx="410.0" cy="136.1" r="4.17"/>
<circle cx="422.6" cy="126.2" r="4.17"/>
<circle cx="405.5" cy="131.6" r="4.17"/>
<circle cx="419.0" cy="128.9" r="4.17"/>
<circle cx="409.0" cy="106.0" r="4.17"/>
<circle cx="403.0" cy="117.0" r="4.17"/>
<circle cx="415.0" cy="110.0" r="4.17"/>
<circle cx="410.0" cy="123.0" r="4.17"/>
<circle cx="416.0" cy="128.0" r="4.17"/>
<circle cx="412.0" cy="133.0" r="4.17"/>
<circle cx="399.0" cy="108.0" r="4.17"/>
<circle cx="404.0" cy="103.0" r="4.17"/>
<circle cx="407.0" cy="101.0" r="4.17"/>
<circle cx="402.0" cy="121.0" r="4.17"/>
<circle cx="647.6" cy="136.3" r="4.17"/>
<circle cx="700.4" cy="141.1" r="4.17"/>
<circle cx="702.3" cy="154.1" r="4.17"/>
<circle cx="677.6" cy="172.1" r="4.17"/>
<circle cx="726.3" cy="182.4" r="4.17"/>
<circle cx="741.5" cy="162.5" r="4.17"/>
<circle cx="743.5" cy="160.5" r="4.17"/>
<circle cx="754.3" cy="162.2" r="4.17"/>
<circle cx="794.4" cy="166.3" r="4.17"/>
<circle cx="741.6" cy="179.3" r="4.17"/>
<circle cx="790.3" cy="189.6" r="4.17"/>
<circle cx="770.4" cy="197.3" r="4.17"/>
<circle cx="865.7" cy="200.4" r="4.17"/>
<circle cx="630.3" cy="195.1" r="4.17"/>
<circle cx="646.4" cy="214.1" r="4.17"/>
<circle cx="574.4" cy="231.2" r="4.17"/>
<circle cx="711.2" cy="226.1" r="4.17"/>
<circle cx="737.1" cy="216.2" r="4.17"/>
<circle cx="783.1" cy="215.3" r="4.17"/>
<circle cx="690.5" cy="233.0" r="4.17"/>
<circle cx="678.2" cy="236.6" r="4.17"/>
<circle cx="729.3" cy="234.2" r="4.17"/>
<circle cx="739.5" cy="231.0" r="4.17"/>
<circle cx="781.4" cy="230.4" r="4.17"/>
<circle cx="589.3" cy="248.8" r="4.17"/>
<circle cx="589.3" cy="257.2" r="4.17"/>
<circle cx="616.9" cy="288.2" r="4.17"/>
<circle cx="642.3" cy="298.0" r="4.17"/>
<circle cx="658.4" cy="278.8" r="4.17"/>
<circle cx="663.2" cy="253.1" r="4.17"/>
<circle cx="668.5" cy="265.1" r="4.17"/>
<circle cx="675.9" cy="267.3" r="4.17"/>
<circle cx="679.3" cy="283.8" r="4.17"/>
<circle cx="691.5" cy="267.0" r="4.17"/>
<circle cx="708.3" cy="243.3" r="4.17"/>
<circle cx="705.9" cy="247.6" r="4.17"/>
<circle cx="704.0" cy="259.1" r="4.17"/>
<circle cx="709.3" cy="265.6" r="4.17"/>
<circle cx="715.5" cy="269.9" r="4.17"/>
<circle cx="721.5" cy="278.2" r="4.17"/>
<circle cx="706.4" cy="284.8" r="4.17"/>
<circle cx="656.5" cy="327.3" r="4.17"/>
<circle cx="680.5" cy="340.7" r="4.17"/>
<circle cx="731.2" cy="338.4" r="4.17"/>
<circle cx="792.5" cy="245.9" r="4.17"/>
<circle cx="804.2" cy="255.3" r="4.17"/>
<circle cx="745.9" cy="271.1" r="4.17"/>
<circle cx="750.2" cy="285.3" r="4.17"/>
<circle cx="821.5" cy="332.1" r="4.17"/>
<circle cx="811.1" cy="339.4" r="4.17"/>
</g>
<rect x="125.5" y="60.5" width="775" height="385" fill="none" stroke="#000" stroke-width="1.11"/>
<path d="M130.00 445.5v5.4M250.20 445.5v5.4M370.40 445.5v5.4M490.60 445.5v5.4M610.80 445.5v5.4M731.00 445.5v5.4M851.20 445.5v5.4M125.5 433.80h-5.4M125.5 385.00h-5.4M125.5 336.20h-5.4M125.5 287.40h-5.4M125.5 238.60h-5.4M125.5 189.80h-5.4M125.5 141.00h-5.4M125.5 92.20h-5.4" stroke="#000" stroke-width="1.11" fill="none"/>
<g font-size="13.89px">
<text x="130.00" y="466.2" text-anchor="middle">−2</text>
<text x="250.20" y="466.2" text-anchor="middle">0</text>
<text x="370.40" y="466.2" text-anchor="middle">2</text>
<text x="490.60" y="466.2" text-anchor="middle">4</text>
<text x="610.80" y="466.2" text-anchor="middle">6</text>
<text x="731.00" y="466.2" text-anchor="middle">8</text>
<text x="851.20" y="466.2" text-anchor="middle">10</text>
<text x="115.8" y="439.10" text-anchor="end">−2</text>
<text x="115.8" y="390.30" text-anchor="end">−1</text>
<text x="115.8" y="341.50" text-anchor="end">0</text>
<text x="115.8" y="292.70" text-anchor="end">1</text>
<text x="115.8" y="243.90" text-anchor="end">2</text>
<text x="115.8" y="195.10" text-anchor="end">3</text>
<text x="115.8" y="146.30" text-anchor="end">4</text>
<text x="115.8" y="97.50" text-anchor="end">5</text>
</g>
<text transform="translate(512.8,51.8) scale(0.997,1.07)" text-anchor="middle" font-size="16.67px">OT plan with quadratic regularization</text>
<rect x="733.7" y="67.9" width="159.8" height="45.3" rx="2.8" ry="2.8" fill="#fff" fill-opacity="0.8" stroke="#ccc" stroke-width="1.39"/>
<path d="M749.03 80.0h8.34M753.2 75.83v8.34" stroke="#1f77b4" stroke-width="2.08" fill="none"/>
<circle cx="753.2" cy="101.3" r="4.17" fill="#ff7f0e" stroke="#ff7f0e" stroke-width="1.39"/>
<g font-size="13.89px"><text x="778.4" y="83.3">Source samples</text><text x="778.4" y="103.9">Target samples</text></g>
</svg></body></html>
